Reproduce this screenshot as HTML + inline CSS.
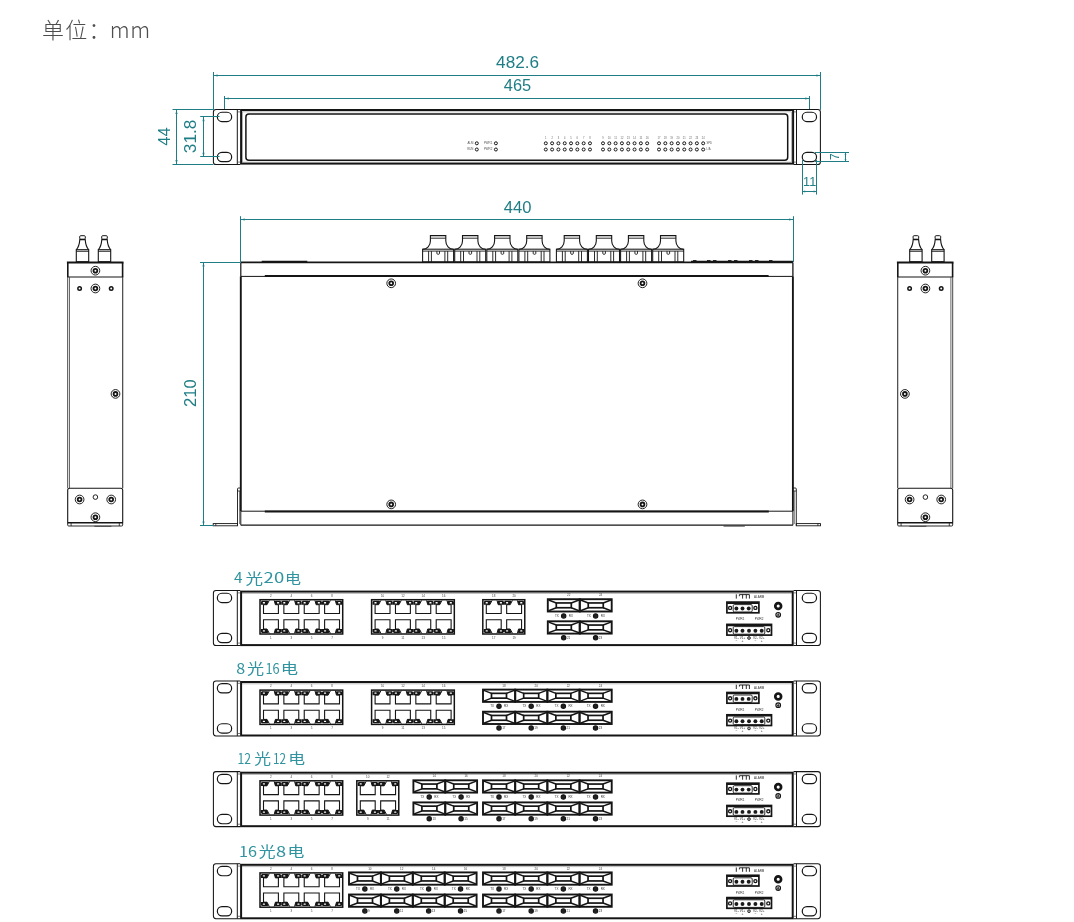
<!DOCTYPE html>
<html lang="zh-CN">
<head>
<meta charset="utf-8">
<title>尺寸图</title>
<style>
html,body{margin:0;padding:0;background:#fff;}
body{width:1074px;height:922px;overflow:hidden;font-family:"Liberation Sans","Noto Sans CJK SC",sans-serif;}
svg{display:block;will-change:transform;}
svg line, svg path, svg rect, svg circle{shape-rendering:geometricPrecision;}
</style>
</head>
<body>
<svg width="1074" height="922" viewBox="0 0 1074 922">
<rect x="0" y="0" width="1074" height="922" fill="#ffffff" stroke="none"/>
<text y="38.0" font-size="22" fill="#4d4d4d" font-weight="300" font-family='"Noto Sans CJK SC", "Liberation Sans", sans-serif'><tspan x="42" letter-spacing="1.3">单位：</tspan><tspan x="109.8" letter-spacing="0.6">mm</tspan></text>
<path d="M240.2 109.50 H216 Q213.4 109.50 213.4 112.10 V161.90 Q213.4 164.50 216 164.50 H240.2" fill="none" stroke="#151515" stroke-width="1.05" />
<line x1="237.30" y1="109.50" x2="237.30" y2="164.50" stroke="#151515" stroke-width="1.0" />
<line x1="237.30" y1="111.90" x2="240.20" y2="111.90" stroke="#444" stroke-width="0.7" />
<line x1="237.30" y1="162.10" x2="240.20" y2="162.10" stroke="#444" stroke-width="0.7" />
<path d="M793.6 109.50 H817.8 Q820.4 109.50 820.4 112.10 V161.90 Q820.4 164.50 817.8 164.50 H793.6" fill="none" stroke="#151515" stroke-width="1.05" />
<line x1="796.50" y1="109.50" x2="796.50" y2="164.50" stroke="#151515" stroke-width="1.0" />
<line x1="793.60" y1="111.90" x2="796.50" y2="111.90" stroke="#444" stroke-width="0.7" />
<line x1="793.60" y1="162.10" x2="796.50" y2="162.10" stroke="#444" stroke-width="0.7" />
<rect x="217.35" y="112.25" width="14.30" height="9.30" rx="4.65" fill="none" stroke="#151515" stroke-width="1.2"/>
<rect x="217.35" y="152.35" width="14.30" height="9.30" rx="4.65" fill="none" stroke="#151515" stroke-width="1.2"/>
<rect x="802.25" y="112.25" width="14.30" height="9.30" rx="4.65" fill="none" stroke="#151515" stroke-width="1.2"/>
<rect x="802.25" y="152.35" width="14.30" height="9.30" rx="4.65" fill="none" stroke="#151515" stroke-width="1.2"/>
<rect x="241.10" y="110.00" width="552.00" height="53.60" rx="0" fill="none" stroke="#151515" stroke-width="2.0"/>
<rect x="242.70" y="111.90" width="548.80" height="50.20" rx="0" fill="none" stroke="#777" stroke-width="0.5"/>
<rect x="245.90" y="114.10" width="541.80" height="46.20" rx="3" fill="none" stroke="#151515" stroke-width="1.5"/>
<circle cx="476.80" cy="143.30" r="1.5" fill="none" stroke="#151515" stroke-width="1.0"/>
<circle cx="476.80" cy="149.50" r="1.5" fill="none" stroke="#151515" stroke-width="1.0"/>
<circle cx="495.90" cy="143.30" r="1.5" fill="none" stroke="#151515" stroke-width="1.0"/>
<circle cx="495.90" cy="149.50" r="1.5" fill="none" stroke="#151515" stroke-width="1.0"/>
<text x="473.40" y="144.20" font-size="2.9" fill="#555" text-anchor="end" font-family='"Liberation Sans", sans-serif' >ALM</text>
<text x="473.40" y="150.40" font-size="2.9" fill="#555" text-anchor="end" font-family='"Liberation Sans", sans-serif' >RUN</text>
<text x="492.30" y="144.20" font-size="2.9" fill="#555" text-anchor="end" font-family='"Liberation Sans", sans-serif' >PWR1</text>
<text x="492.30" y="150.40" font-size="2.9" fill="#555" text-anchor="end" font-family='"Liberation Sans", sans-serif' >PWR2</text>
<circle cx="545.80" cy="143.30" r="1.5" fill="none" stroke="#151515" stroke-width="1.0"/>
<circle cx="545.80" cy="149.50" r="1.5" fill="none" stroke="#151515" stroke-width="1.0"/>
<text x="545.80" y="139.00" font-size="2.6" fill="#666" text-anchor="middle" font-family='"Liberation Sans", sans-serif' >1</text>
<circle cx="552.11" cy="143.30" r="1.5" fill="none" stroke="#151515" stroke-width="1.0"/>
<circle cx="552.11" cy="149.50" r="1.5" fill="none" stroke="#151515" stroke-width="1.0"/>
<text x="552.11" y="139.00" font-size="2.6" fill="#666" text-anchor="middle" font-family='"Liberation Sans", sans-serif' >2</text>
<circle cx="558.42" cy="143.30" r="1.5" fill="none" stroke="#151515" stroke-width="1.0"/>
<circle cx="558.42" cy="149.50" r="1.5" fill="none" stroke="#151515" stroke-width="1.0"/>
<text x="558.42" y="139.00" font-size="2.6" fill="#666" text-anchor="middle" font-family='"Liberation Sans", sans-serif' >3</text>
<circle cx="564.73" cy="143.30" r="1.5" fill="none" stroke="#151515" stroke-width="1.0"/>
<circle cx="564.73" cy="149.50" r="1.5" fill="none" stroke="#151515" stroke-width="1.0"/>
<text x="564.73" y="139.00" font-size="2.6" fill="#666" text-anchor="middle" font-family='"Liberation Sans", sans-serif' >4</text>
<circle cx="571.04" cy="143.30" r="1.5" fill="none" stroke="#151515" stroke-width="1.0"/>
<circle cx="571.04" cy="149.50" r="1.5" fill="none" stroke="#151515" stroke-width="1.0"/>
<text x="571.04" y="139.00" font-size="2.6" fill="#666" text-anchor="middle" font-family='"Liberation Sans", sans-serif' >5</text>
<circle cx="577.35" cy="143.30" r="1.5" fill="none" stroke="#151515" stroke-width="1.0"/>
<circle cx="577.35" cy="149.50" r="1.5" fill="none" stroke="#151515" stroke-width="1.0"/>
<text x="577.35" y="139.00" font-size="2.6" fill="#666" text-anchor="middle" font-family='"Liberation Sans", sans-serif' >6</text>
<circle cx="583.66" cy="143.30" r="1.5" fill="none" stroke="#151515" stroke-width="1.0"/>
<circle cx="583.66" cy="149.50" r="1.5" fill="none" stroke="#151515" stroke-width="1.0"/>
<text x="583.66" y="139.00" font-size="2.6" fill="#666" text-anchor="middle" font-family='"Liberation Sans", sans-serif' >7</text>
<circle cx="589.97" cy="143.30" r="1.5" fill="none" stroke="#151515" stroke-width="1.0"/>
<circle cx="589.97" cy="149.50" r="1.5" fill="none" stroke="#151515" stroke-width="1.0"/>
<text x="589.97" y="139.00" font-size="2.6" fill="#666" text-anchor="middle" font-family='"Liberation Sans", sans-serif' >8</text>
<circle cx="603.00" cy="143.30" r="1.5" fill="none" stroke="#151515" stroke-width="1.0"/>
<circle cx="603.00" cy="149.50" r="1.5" fill="none" stroke="#151515" stroke-width="1.0"/>
<text x="603.00" y="139.00" font-size="2.6" fill="#666" text-anchor="middle" font-family='"Liberation Sans", sans-serif' >9</text>
<circle cx="609.31" cy="143.30" r="1.5" fill="none" stroke="#151515" stroke-width="1.0"/>
<circle cx="609.31" cy="149.50" r="1.5" fill="none" stroke="#151515" stroke-width="1.0"/>
<text x="609.31" y="139.00" font-size="2.6" fill="#666" text-anchor="middle" font-family='"Liberation Sans", sans-serif' >10</text>
<circle cx="615.62" cy="143.30" r="1.5" fill="none" stroke="#151515" stroke-width="1.0"/>
<circle cx="615.62" cy="149.50" r="1.5" fill="none" stroke="#151515" stroke-width="1.0"/>
<text x="615.62" y="139.00" font-size="2.6" fill="#666" text-anchor="middle" font-family='"Liberation Sans", sans-serif' >11</text>
<circle cx="621.93" cy="143.30" r="1.5" fill="none" stroke="#151515" stroke-width="1.0"/>
<circle cx="621.93" cy="149.50" r="1.5" fill="none" stroke="#151515" stroke-width="1.0"/>
<text x="621.93" y="139.00" font-size="2.6" fill="#666" text-anchor="middle" font-family='"Liberation Sans", sans-serif' >12</text>
<circle cx="628.24" cy="143.30" r="1.5" fill="none" stroke="#151515" stroke-width="1.0"/>
<circle cx="628.24" cy="149.50" r="1.5" fill="none" stroke="#151515" stroke-width="1.0"/>
<text x="628.24" y="139.00" font-size="2.6" fill="#666" text-anchor="middle" font-family='"Liberation Sans", sans-serif' >13</text>
<circle cx="634.55" cy="143.30" r="1.5" fill="none" stroke="#151515" stroke-width="1.0"/>
<circle cx="634.55" cy="149.50" r="1.5" fill="none" stroke="#151515" stroke-width="1.0"/>
<text x="634.55" y="139.00" font-size="2.6" fill="#666" text-anchor="middle" font-family='"Liberation Sans", sans-serif' >14</text>
<circle cx="640.86" cy="143.30" r="1.5" fill="none" stroke="#151515" stroke-width="1.0"/>
<circle cx="640.86" cy="149.50" r="1.5" fill="none" stroke="#151515" stroke-width="1.0"/>
<text x="640.86" y="139.00" font-size="2.6" fill="#666" text-anchor="middle" font-family='"Liberation Sans", sans-serif' >15</text>
<circle cx="647.17" cy="143.30" r="1.5" fill="none" stroke="#151515" stroke-width="1.0"/>
<circle cx="647.17" cy="149.50" r="1.5" fill="none" stroke="#151515" stroke-width="1.0"/>
<text x="647.17" y="139.00" font-size="2.6" fill="#666" text-anchor="middle" font-family='"Liberation Sans", sans-serif' >16</text>
<circle cx="659.00" cy="143.30" r="1.5" fill="none" stroke="#151515" stroke-width="1.0"/>
<circle cx="659.00" cy="149.50" r="1.5" fill="none" stroke="#151515" stroke-width="1.0"/>
<text x="659.00" y="139.00" font-size="2.6" fill="#666" text-anchor="middle" font-family='"Liberation Sans", sans-serif' >17</text>
<circle cx="665.31" cy="143.30" r="1.5" fill="none" stroke="#151515" stroke-width="1.0"/>
<circle cx="665.31" cy="149.50" r="1.5" fill="none" stroke="#151515" stroke-width="1.0"/>
<text x="665.31" y="139.00" font-size="2.6" fill="#666" text-anchor="middle" font-family='"Liberation Sans", sans-serif' >18</text>
<circle cx="671.62" cy="143.30" r="1.5" fill="none" stroke="#151515" stroke-width="1.0"/>
<circle cx="671.62" cy="149.50" r="1.5" fill="none" stroke="#151515" stroke-width="1.0"/>
<text x="671.62" y="139.00" font-size="2.6" fill="#666" text-anchor="middle" font-family='"Liberation Sans", sans-serif' >19</text>
<circle cx="677.93" cy="143.30" r="1.5" fill="none" stroke="#151515" stroke-width="1.0"/>
<circle cx="677.93" cy="149.50" r="1.5" fill="none" stroke="#151515" stroke-width="1.0"/>
<text x="677.93" y="139.00" font-size="2.6" fill="#666" text-anchor="middle" font-family='"Liberation Sans", sans-serif' >20</text>
<circle cx="684.24" cy="143.30" r="1.5" fill="none" stroke="#151515" stroke-width="1.0"/>
<circle cx="684.24" cy="149.50" r="1.5" fill="none" stroke="#151515" stroke-width="1.0"/>
<text x="684.24" y="139.00" font-size="2.6" fill="#666" text-anchor="middle" font-family='"Liberation Sans", sans-serif' >21</text>
<circle cx="690.55" cy="143.30" r="1.5" fill="none" stroke="#151515" stroke-width="1.0"/>
<circle cx="690.55" cy="149.50" r="1.5" fill="none" stroke="#151515" stroke-width="1.0"/>
<text x="690.55" y="139.00" font-size="2.6" fill="#666" text-anchor="middle" font-family='"Liberation Sans", sans-serif' >22</text>
<circle cx="696.86" cy="143.30" r="1.5" fill="none" stroke="#151515" stroke-width="1.0"/>
<circle cx="696.86" cy="149.50" r="1.5" fill="none" stroke="#151515" stroke-width="1.0"/>
<text x="696.86" y="139.00" font-size="2.6" fill="#666" text-anchor="middle" font-family='"Liberation Sans", sans-serif' >23</text>
<circle cx="703.17" cy="143.30" r="1.5" fill="none" stroke="#151515" stroke-width="1.0"/>
<circle cx="703.17" cy="149.50" r="1.5" fill="none" stroke="#151515" stroke-width="1.0"/>
<text x="703.17" y="139.00" font-size="2.6" fill="#666" text-anchor="middle" font-family='"Liberation Sans", sans-serif' >24</text>
<text x="706.50" y="144.20" font-size="2.7" fill="#555" text-anchor="start" font-family='"Liberation Sans", sans-serif' >SPD</text>
<text x="706.50" y="150.40" font-size="2.7" fill="#555" text-anchor="start" font-family='"Liberation Sans", sans-serif' >L/A</text>
<line x1="213.50" y1="72.00" x2="213.50" y2="109.90" stroke="#1f7d86" stroke-width="1" />
<line x1="820.50" y1="72.00" x2="820.50" y2="109.90" stroke="#1f7d86" stroke-width="1" />
<line x1="213.40" y1="75.50" x2="820.50" y2="75.50" stroke="#1f7d86" stroke-width="1" />
<polygon points="213.40,75.50 217.60,74.45 217.60,76.55" fill="#1f7d86"/>
<polygon points="820.50,75.50 816.30,74.45 816.30,76.55" fill="#1f7d86"/>
<line x1="224.50" y1="96.00" x2="224.50" y2="109.00" stroke="#1f7d86" stroke-width="1" />
<line x1="809.50" y1="96.00" x2="809.50" y2="109.00" stroke="#1f7d86" stroke-width="1" />
<line x1="224.60" y1="98.50" x2="809.40" y2="98.50" stroke="#1f7d86" stroke-width="1" />
<polygon points="224.60,98.50 228.80,97.45 228.80,99.55" fill="#1f7d86"/>
<polygon points="809.40,98.50 805.20,97.45 805.20,99.55" fill="#1f7d86"/>
<text x="496.11" y="67.50" font-size="15.6" fill="#1f7d86" font-family='"Liberation Sans", sans-serif' font-weight="400" textLength="42.97" lengthAdjust="spacingAndGlyphs">482.6</text>
<text x="503.82" y="91.20" font-size="15.6" fill="#1f7d86" font-family='"Liberation Sans", sans-serif' font-weight="400" textLength="27.36" lengthAdjust="spacingAndGlyphs">465</text>
<line x1="172.50" y1="109.50" x2="213.40" y2="109.50" stroke="#1f7d86" stroke-width="1" />
<line x1="172.50" y1="164.50" x2="213.40" y2="164.50" stroke="#1f7d86" stroke-width="1" />
<line x1="176.50" y1="109.90" x2="176.50" y2="164.30" stroke="#1f7d86" stroke-width="1" />
<polygon points="176.50,109.90 175.45,114.10 177.55,114.10" fill="#1f7d86"/>
<polygon points="176.50,164.30 175.45,160.10 177.55,160.10" fill="#1f7d86"/>
<text transform="translate(169.65 145.68) rotate(-90)" x="0" y="0" font-size="16.9" fill="#1f7d86" font-family='"Liberation Sans", sans-serif' font-weight="400" textLength="18.26" lengthAdjust="spacingAndGlyphs">44</text>
<line x1="200.20" y1="116.50" x2="219.50" y2="116.50" stroke="#1f7d86" stroke-width="1" />
<line x1="200.20" y1="156.50" x2="219.50" y2="156.50" stroke="#1f7d86" stroke-width="1" />
<line x1="203.50" y1="117.00" x2="203.50" y2="157.00" stroke="#1f7d86" stroke-width="1" />
<polygon points="203.50,117.00 202.45,121.20 204.55,121.20" fill="#1f7d86"/>
<polygon points="203.50,157.00 202.45,152.80 204.55,152.80" fill="#1f7d86"/>
<text transform="translate(196.05 153.24) rotate(-90)" x="0" y="0" font-size="16.6" fill="#1f7d86" font-family='"Liberation Sans", sans-serif' font-weight="400" textLength="33.70" lengthAdjust="spacingAndGlyphs">31.8</text>
<line x1="815.00" y1="152.50" x2="849.00" y2="152.50" stroke="#1f7d86" stroke-width="1" />
<line x1="815.00" y1="161.50" x2="849.00" y2="161.50" stroke="#1f7d86" stroke-width="1" />
<line x1="845.50" y1="152.40" x2="845.50" y2="161.50" stroke="#1f7d86" stroke-width="1" />
<polygon points="845.50,152.40 844.60,155.00 846.40,155.00" fill="#1f7d86"/>
<polygon points="845.50,161.50 844.60,158.90 846.40,158.90" fill="#1f7d86"/>
<text transform="translate(839.45 160.04) rotate(-90)" x="0" y="0" font-size="13.3" fill="#1f7d86" font-family='"Liberation Sans", sans-serif' font-weight="400" textLength="6.53" lengthAdjust="spacingAndGlyphs">7</text>
<line x1="802.50" y1="159.90" x2="802.50" y2="194.60" stroke="#1f7d86" stroke-width="1" />
<line x1="816.50" y1="159.90" x2="816.50" y2="194.60" stroke="#1f7d86" stroke-width="1" />
<line x1="802.40" y1="191.50" x2="816.40" y2="191.50" stroke="#1f7d86" stroke-width="1" />
<polygon points="802.40,191.50 805.20,190.60 805.20,192.40" fill="#1f7d86"/>
<polygon points="816.40,191.50 813.60,190.60 813.60,192.40" fill="#1f7d86"/>
<text x="803.03" y="185.55" font-size="12.4" fill="#1f7d86" font-family='"Liberation Sans", sans-serif' font-weight="400" textLength="13.23" lengthAdjust="spacingAndGlyphs">11</text>
<rect x="422.60" y="249.20" width="31.00" height="12.70" rx="0" fill="none" stroke="#151515" stroke-width="1.05"/>
<line x1="422.60" y1="251.10" x2="453.60" y2="251.10" stroke="#151515" stroke-width="0.9" />
<line x1="428.60" y1="251.10" x2="428.60" y2="261.90" stroke="#151515" stroke-width="0.9" />
<line x1="431.40" y1="251.10" x2="431.40" y2="261.90" stroke="#151515" stroke-width="0.9" />
<line x1="444.90" y1="251.10" x2="444.90" y2="261.90" stroke="#151515" stroke-width="0.9" />
<line x1="447.70" y1="251.10" x2="447.70" y2="261.90" stroke="#151515" stroke-width="0.9" />
<path d="M436.90 251.1 V253.4 Q436.90 254.3 438.20 254.3 Q439.50 254.3 439.50 253.4 V251.1" fill="none" stroke="#151515" stroke-width="0.9" />
<path d="M422.80 249.2 A7.6 8.2 0 0 0 430.40 241.0 V235.6 H445.80 V241.0 A7.6 8.2 0 0 0 453.40 249.2" fill="none" stroke="#151515" stroke-width="1.1" />
<line x1="430.40" y1="238.20" x2="445.80" y2="238.20" stroke="#151515" stroke-width="0.9" />
<rect x="454.70" y="249.20" width="31.00" height="12.70" rx="0" fill="none" stroke="#151515" stroke-width="1.05"/>
<line x1="454.70" y1="251.10" x2="485.70" y2="251.10" stroke="#151515" stroke-width="0.9" />
<line x1="460.70" y1="251.10" x2="460.70" y2="261.90" stroke="#151515" stroke-width="0.9" />
<line x1="463.50" y1="251.10" x2="463.50" y2="261.90" stroke="#151515" stroke-width="0.9" />
<line x1="477.00" y1="251.10" x2="477.00" y2="261.90" stroke="#151515" stroke-width="0.9" />
<line x1="479.80" y1="251.10" x2="479.80" y2="261.90" stroke="#151515" stroke-width="0.9" />
<path d="M469.00 251.1 V253.4 Q469.00 254.3 470.30 254.3 Q471.60 254.3 471.60 253.4 V251.1" fill="none" stroke="#151515" stroke-width="0.9" />
<path d="M454.90 249.2 A7.6 8.2 0 0 0 462.50 241.0 V235.6 H477.90 V241.0 A7.6 8.2 0 0 0 485.50 249.2" fill="none" stroke="#151515" stroke-width="1.1" />
<line x1="462.50" y1="238.20" x2="477.90" y2="238.20" stroke="#151515" stroke-width="0.9" />
<rect x="486.80" y="249.20" width="31.00" height="12.70" rx="0" fill="none" stroke="#151515" stroke-width="1.05"/>
<line x1="486.80" y1="251.10" x2="517.80" y2="251.10" stroke="#151515" stroke-width="0.9" />
<line x1="492.80" y1="251.10" x2="492.80" y2="261.90" stroke="#151515" stroke-width="0.9" />
<line x1="495.60" y1="251.10" x2="495.60" y2="261.90" stroke="#151515" stroke-width="0.9" />
<line x1="509.10" y1="251.10" x2="509.10" y2="261.90" stroke="#151515" stroke-width="0.9" />
<line x1="511.90" y1="251.10" x2="511.90" y2="261.90" stroke="#151515" stroke-width="0.9" />
<path d="M501.10 251.1 V253.4 Q501.10 254.3 502.40 254.3 Q503.70 254.3 503.70 253.4 V251.1" fill="none" stroke="#151515" stroke-width="0.9" />
<path d="M487.00 249.2 A7.6 8.2 0 0 0 494.60 241.0 V235.6 H510.00 V241.0 A7.6 8.2 0 0 0 517.60 249.2" fill="none" stroke="#151515" stroke-width="1.1" />
<line x1="494.60" y1="238.20" x2="510.00" y2="238.20" stroke="#151515" stroke-width="0.9" />
<rect x="518.90" y="249.20" width="31.00" height="12.70" rx="0" fill="none" stroke="#151515" stroke-width="1.05"/>
<line x1="518.90" y1="251.10" x2="549.90" y2="251.10" stroke="#151515" stroke-width="0.9" />
<line x1="524.90" y1="251.10" x2="524.90" y2="261.90" stroke="#151515" stroke-width="0.9" />
<line x1="527.70" y1="251.10" x2="527.70" y2="261.90" stroke="#151515" stroke-width="0.9" />
<line x1="541.20" y1="251.10" x2="541.20" y2="261.90" stroke="#151515" stroke-width="0.9" />
<line x1="544.00" y1="251.10" x2="544.00" y2="261.90" stroke="#151515" stroke-width="0.9" />
<path d="M533.20 251.1 V253.4 Q533.20 254.3 534.50 254.3 Q535.80 254.3 535.80 253.4 V251.1" fill="none" stroke="#151515" stroke-width="0.9" />
<path d="M519.10 249.2 A7.6 8.2 0 0 0 526.70 241.0 V235.6 H542.10 V241.0 A7.6 8.2 0 0 0 549.70 249.2" fill="none" stroke="#151515" stroke-width="1.1" />
<line x1="526.70" y1="238.20" x2="542.10" y2="238.20" stroke="#151515" stroke-width="0.9" />
<rect x="556.40" y="249.20" width="31.00" height="12.70" rx="0" fill="none" stroke="#151515" stroke-width="1.05"/>
<line x1="556.40" y1="251.10" x2="587.40" y2="251.10" stroke="#151515" stroke-width="0.9" />
<line x1="562.40" y1="251.10" x2="562.40" y2="261.90" stroke="#151515" stroke-width="0.9" />
<line x1="565.20" y1="251.10" x2="565.20" y2="261.90" stroke="#151515" stroke-width="0.9" />
<line x1="578.70" y1="251.10" x2="578.70" y2="261.90" stroke="#151515" stroke-width="0.9" />
<line x1="581.50" y1="251.10" x2="581.50" y2="261.90" stroke="#151515" stroke-width="0.9" />
<path d="M570.70 251.1 V253.4 Q570.70 254.3 572.00 254.3 Q573.30 254.3 573.30 253.4 V251.1" fill="none" stroke="#151515" stroke-width="0.9" />
<path d="M556.60 249.2 A7.6 8.2 0 0 0 564.20 241.0 V235.6 H579.60 V241.0 A7.6 8.2 0 0 0 587.20 249.2" fill="none" stroke="#151515" stroke-width="1.1" />
<line x1="564.20" y1="238.20" x2="579.60" y2="238.20" stroke="#151515" stroke-width="0.9" />
<rect x="588.50" y="249.20" width="31.00" height="12.70" rx="0" fill="none" stroke="#151515" stroke-width="1.05"/>
<line x1="588.50" y1="251.10" x2="619.50" y2="251.10" stroke="#151515" stroke-width="0.9" />
<line x1="594.50" y1="251.10" x2="594.50" y2="261.90" stroke="#151515" stroke-width="0.9" />
<line x1="597.30" y1="251.10" x2="597.30" y2="261.90" stroke="#151515" stroke-width="0.9" />
<line x1="610.80" y1="251.10" x2="610.80" y2="261.90" stroke="#151515" stroke-width="0.9" />
<line x1="613.60" y1="251.10" x2="613.60" y2="261.90" stroke="#151515" stroke-width="0.9" />
<path d="M602.80 251.1 V253.4 Q602.80 254.3 604.10 254.3 Q605.40 254.3 605.40 253.4 V251.1" fill="none" stroke="#151515" stroke-width="0.9" />
<path d="M588.70 249.2 A7.6 8.2 0 0 0 596.30 241.0 V235.6 H611.70 V241.0 A7.6 8.2 0 0 0 619.30 249.2" fill="none" stroke="#151515" stroke-width="1.1" />
<line x1="596.30" y1="238.20" x2="611.70" y2="238.20" stroke="#151515" stroke-width="0.9" />
<rect x="620.60" y="249.20" width="31.00" height="12.70" rx="0" fill="none" stroke="#151515" stroke-width="1.05"/>
<line x1="620.60" y1="251.10" x2="651.60" y2="251.10" stroke="#151515" stroke-width="0.9" />
<line x1="626.60" y1="251.10" x2="626.60" y2="261.90" stroke="#151515" stroke-width="0.9" />
<line x1="629.40" y1="251.10" x2="629.40" y2="261.90" stroke="#151515" stroke-width="0.9" />
<line x1="642.90" y1="251.10" x2="642.90" y2="261.90" stroke="#151515" stroke-width="0.9" />
<line x1="645.70" y1="251.10" x2="645.70" y2="261.90" stroke="#151515" stroke-width="0.9" />
<path d="M634.90 251.1 V253.4 Q634.90 254.3 636.20 254.3 Q637.50 254.3 637.50 253.4 V251.1" fill="none" stroke="#151515" stroke-width="0.9" />
<path d="M620.80 249.2 A7.6 8.2 0 0 0 628.40 241.0 V235.6 H643.80 V241.0 A7.6 8.2 0 0 0 651.40 249.2" fill="none" stroke="#151515" stroke-width="1.1" />
<line x1="628.40" y1="238.20" x2="643.80" y2="238.20" stroke="#151515" stroke-width="0.9" />
<rect x="652.70" y="249.20" width="31.00" height="12.70" rx="0" fill="none" stroke="#151515" stroke-width="1.05"/>
<line x1="652.70" y1="251.10" x2="683.70" y2="251.10" stroke="#151515" stroke-width="0.9" />
<line x1="658.70" y1="251.10" x2="658.70" y2="261.90" stroke="#151515" stroke-width="0.9" />
<line x1="661.50" y1="251.10" x2="661.50" y2="261.90" stroke="#151515" stroke-width="0.9" />
<line x1="675.00" y1="251.10" x2="675.00" y2="261.90" stroke="#151515" stroke-width="0.9" />
<line x1="677.80" y1="251.10" x2="677.80" y2="261.90" stroke="#151515" stroke-width="0.9" />
<path d="M667.00 251.1 V253.4 Q667.00 254.3 668.30 254.3 Q669.60 254.3 669.60 253.4 V251.1" fill="none" stroke="#151515" stroke-width="0.9" />
<path d="M652.90 249.2 A7.6 8.2 0 0 0 660.50 241.0 V235.6 H675.90 V241.0 A7.6 8.2 0 0 0 683.50 249.2" fill="none" stroke="#151515" stroke-width="1.1" />
<line x1="660.50" y1="238.20" x2="675.90" y2="238.20" stroke="#151515" stroke-width="0.9" />
<line x1="240.80" y1="262.40" x2="792.90" y2="262.40" stroke="#151515" stroke-width="1.8" />
<line x1="261.70" y1="261.60" x2="307.30" y2="261.60" stroke="#151515" stroke-width="1.6" />
<path d="M691 261.8 H792.9" fill="none" stroke="#151515" stroke-width="2.0" />
<line x1="693.00" y1="260.60" x2="696.50" y2="260.60" stroke="#151515" stroke-width="1.0" />
<line x1="707.00" y1="260.60" x2="710.50" y2="260.60" stroke="#151515" stroke-width="1.0" />
<line x1="713.00" y1="260.60" x2="716.50" y2="260.60" stroke="#151515" stroke-width="1.0" />
<line x1="728.00" y1="260.60" x2="731.50" y2="260.60" stroke="#151515" stroke-width="1.0" />
<line x1="734.00" y1="260.60" x2="737.50" y2="260.60" stroke="#151515" stroke-width="1.0" />
<line x1="749.00" y1="260.60" x2="752.50" y2="260.60" stroke="#151515" stroke-width="1.0" />
<line x1="755.00" y1="260.60" x2="758.50" y2="260.60" stroke="#151515" stroke-width="1.0" />
<line x1="769.00" y1="260.60" x2="772.50" y2="260.60" stroke="#151515" stroke-width="1.0" />
<line x1="240.80" y1="276.40" x2="792.90" y2="276.40" stroke="#151515" stroke-width="1.0" />
<line x1="264.80" y1="276.10" x2="768.60" y2="276.10" stroke="#151515" stroke-width="2.0" />
<line x1="240.80" y1="262.40" x2="240.80" y2="276.40" stroke="#151515" stroke-width="1.2" />
<line x1="792.90" y1="262.40" x2="792.90" y2="276.40" stroke="#151515" stroke-width="1.3" />
<line x1="240.80" y1="276.40" x2="240.80" y2="511.20" stroke="#151515" stroke-width="1.9" />
<line x1="792.90" y1="276.40" x2="792.90" y2="511.20" stroke="#151515" stroke-width="1.9" />
<line x1="240.80" y1="511.20" x2="792.90" y2="511.20" stroke="#151515" stroke-width="1.0" />
<line x1="264.80" y1="511.60" x2="768.80" y2="511.60" stroke="#151515" stroke-width="2.0" />
<line x1="240.80" y1="511.20" x2="240.80" y2="525.20" stroke="#151515" stroke-width="1.0" />
<line x1="792.90" y1="511.20" x2="792.90" y2="525.20" stroke="#151515" stroke-width="1.0" />
<line x1="240.80" y1="525.20" x2="792.90" y2="525.20" stroke="#151515" stroke-width="1.3" />
<line x1="723.50" y1="525.90" x2="744.80" y2="525.90" stroke="#444" stroke-width="1.4" />
<path d="M237.5 525.6 V489 Q237.5 488 238.5 488 H240.8" fill="none" stroke="#151515" stroke-width="0.9" />
<line x1="237.50" y1="491.00" x2="240.80" y2="491.00" stroke="#151515" stroke-width="0.8" />
<line x1="239.60" y1="491.00" x2="239.60" y2="524.00" stroke="#444" stroke-width="0.7" />
<rect x="213.20" y="523.60" width="24.30" height="2.20" rx="0" fill="none" stroke="#151515" stroke-width="0.9"/>
<line x1="215.80" y1="523.60" x2="215.80" y2="525.80" stroke="#151515" stroke-width="0.8" />
<path d="M796.3 525.6 V489 Q796.3 488 795.3 488 H793" fill="none" stroke="#151515" stroke-width="0.9" />
<line x1="793.00" y1="491.00" x2="796.30" y2="491.00" stroke="#151515" stroke-width="0.8" />
<line x1="794.30" y1="491.00" x2="794.30" y2="524.00" stroke="#444" stroke-width="0.7" />
<rect x="796.30" y="523.60" width="24.20" height="2.20" rx="0" fill="none" stroke="#151515" stroke-width="0.9"/>
<line x1="817.90" y1="523.60" x2="817.90" y2="525.80" stroke="#151515" stroke-width="0.8" />
<circle cx="391.20" cy="283.30" r="4.35" fill="none" stroke="#151515" stroke-width="0.95"/>
<circle cx="391.20" cy="283.30" r="1.9" fill="none" stroke="#151515" stroke-width="1.8"/>
<circle cx="391.20" cy="504.40" r="4.35" fill="none" stroke="#151515" stroke-width="0.95"/>
<circle cx="391.20" cy="504.40" r="1.9" fill="none" stroke="#151515" stroke-width="1.8"/>
<circle cx="642.50" cy="283.30" r="4.35" fill="none" stroke="#151515" stroke-width="0.95"/>
<circle cx="642.50" cy="283.30" r="1.9" fill="none" stroke="#151515" stroke-width="1.8"/>
<circle cx="642.50" cy="504.40" r="4.35" fill="none" stroke="#151515" stroke-width="0.95"/>
<circle cx="642.50" cy="504.40" r="1.9" fill="none" stroke="#151515" stroke-width="1.8"/>
<line x1="240.50" y1="216.20" x2="240.50" y2="262.00" stroke="#1f7d86" stroke-width="1" />
<line x1="793.50" y1="216.20" x2="793.50" y2="262.00" stroke="#1f7d86" stroke-width="1" />
<line x1="240.60" y1="219.50" x2="793.20" y2="219.50" stroke="#1f7d86" stroke-width="1" />
<polygon points="240.60,219.50 244.80,218.45 244.80,220.55" fill="#1f7d86"/>
<polygon points="793.20,219.50 789.00,218.45 789.00,220.55" fill="#1f7d86"/>
<text x="503.82" y="212.50" font-size="15.6" fill="#1f7d86" font-family='"Liberation Sans", sans-serif' font-weight="400" textLength="27.67" lengthAdjust="spacingAndGlyphs">440</text>
<line x1="200.00" y1="262.50" x2="240.60" y2="262.50" stroke="#1f7d86" stroke-width="1" />
<line x1="200.00" y1="525.50" x2="214.00" y2="525.50" stroke="#1f7d86" stroke-width="1" />
<line x1="203.50" y1="262.20" x2="203.50" y2="525.80" stroke="#1f7d86" stroke-width="1" />
<polygon points="203.50,262.20 202.45,266.40 204.55,266.40" fill="#1f7d86"/>
<polygon points="203.50,525.80 202.45,521.60 204.55,521.60" fill="#1f7d86"/>
<text transform="translate(195.95 406.88) rotate(-90)" x="0" y="0" font-size="16.7" fill="#1f7d86" font-family='"Liberation Sans", sans-serif' font-weight="400" textLength="27.56" lengthAdjust="spacingAndGlyphs">210</text>
<rect x="76.30" y="249.70" width="12.40" height="12.00" rx="0" fill="none" stroke="#151515" stroke-width="1.1"/>
<line x1="76.30" y1="251.30" x2="88.70" y2="251.30" stroke="#151515" stroke-width="0.9" />
<path d="M76.30 249.7 Q79.30 246.5 79.80 239.6 H85.20 Q85.70 246.5 88.70 249.7" fill="none" stroke="#151515" stroke-width="1.1" />
<rect x="79.70" y="235.70" width="5.60" height="3.50" rx="1.0" fill="none" stroke="#151515" stroke-width="1.0"/>
<rect x="98.30" y="249.70" width="12.40" height="12.00" rx="0" fill="none" stroke="#151515" stroke-width="1.1"/>
<line x1="98.30" y1="251.30" x2="110.70" y2="251.30" stroke="#151515" stroke-width="0.9" />
<path d="M98.30 249.7 Q101.30 246.5 101.80 239.6 H107.20 Q107.70 246.5 110.70 249.7" fill="none" stroke="#151515" stroke-width="1.1" />
<rect x="101.70" y="235.70" width="5.60" height="3.50" rx="1.0" fill="none" stroke="#151515" stroke-width="1.0"/>
<line x1="66.90" y1="262.50" x2="123.50" y2="262.50" stroke="#151515" stroke-width="2.1" />
<line x1="67.80" y1="262.50" x2="67.80" y2="277.00" stroke="#151515" stroke-width="1.6" />
<line x1="122.60" y1="262.50" x2="122.60" y2="277.00" stroke="#151515" stroke-width="1.6" />
<line x1="67.20" y1="277.00" x2="123.20" y2="277.00" stroke="#151515" stroke-width="1.2" />
<line x1="67.70" y1="277.00" x2="67.70" y2="488.30" stroke="#333" stroke-width="0.9" />
<line x1="69.50" y1="277.00" x2="69.50" y2="488.30" stroke="#444" stroke-width="0.8" />
<line x1="122.70" y1="277.00" x2="122.70" y2="488.30" stroke="#333" stroke-width="1.1" />
<circle cx="95.40" cy="270.70" r="4.35" fill="none" stroke="#151515" stroke-width="0.95"/>
<circle cx="95.40" cy="270.70" r="1.9" fill="none" stroke="#151515" stroke-width="1.8"/>
<circle cx="95.40" cy="288.50" r="4.35" fill="none" stroke="#151515" stroke-width="0.95"/>
<circle cx="95.40" cy="288.50" r="1.9" fill="none" stroke="#151515" stroke-width="1.8"/>
<circle cx="79.60" cy="288.50" r="1.75" fill="none" stroke="#151515" stroke-width="1.5"/>
<circle cx="111.20" cy="288.50" r="1.75" fill="none" stroke="#151515" stroke-width="1.5"/>
<circle cx="115.50" cy="393.90" r="4.35" fill="none" stroke="#151515" stroke-width="0.95"/>
<circle cx="115.50" cy="393.90" r="1.9" fill="none" stroke="#151515" stroke-width="1.8"/>
<path d="M67.70 522.8 V490.3 Q67.70 488.3 69.70 488.3 H120.70 Q122.70 488.3 122.70 490.3 V522.8" fill="none" stroke="#151515" stroke-width="1.1" />
<line x1="67.40" y1="522.80" x2="123.00" y2="522.80" stroke="#151515" stroke-width="1.5" />
<path d="M67.70 522.8 V525 Q67.70 526 68.70 526 H121.70 Q122.70 526 122.70 525 V522.8" fill="none" stroke="#151515" stroke-width="0.9" />
<line x1="71.10" y1="522.80" x2="71.10" y2="526.00" stroke="#151515" stroke-width="0.8" />
<line x1="119.30" y1="522.80" x2="119.30" y2="526.00" stroke="#151515" stroke-width="0.8" />
<line x1="94.40" y1="526.30" x2="111.40" y2="526.30" stroke="#444" stroke-width="1.0" />
<circle cx="79.60" cy="499.50" r="4.35" fill="none" stroke="#151515" stroke-width="0.95"/>
<circle cx="79.60" cy="499.50" r="1.9" fill="none" stroke="#151515" stroke-width="1.8"/>
<circle cx="111.20" cy="499.50" r="4.35" fill="none" stroke="#151515" stroke-width="0.95"/>
<circle cx="111.20" cy="499.50" r="1.9" fill="none" stroke="#151515" stroke-width="1.8"/>
<circle cx="95.40" cy="517.20" r="4.35" fill="none" stroke="#151515" stroke-width="0.95"/>
<circle cx="95.40" cy="517.20" r="1.9" fill="none" stroke="#151515" stroke-width="1.8"/>
<circle cx="95.40" cy="497.10" r="2.3" fill="none" stroke="#222" stroke-width="1.0"/>
<rect x="931.70" y="249.70" width="12.40" height="12.00" rx="0" fill="none" stroke="#151515" stroke-width="1.1"/>
<line x1="931.70" y1="251.30" x2="944.10" y2="251.30" stroke="#151515" stroke-width="0.9" />
<path d="M931.70 249.7 Q934.70 246.5 935.20 239.6 H940.60 Q941.10 246.5 944.10 249.7" fill="none" stroke="#151515" stroke-width="1.1" />
<rect x="935.10" y="235.70" width="5.60" height="3.50" rx="1.0" fill="none" stroke="#151515" stroke-width="1.0"/>
<rect x="909.70" y="249.70" width="12.40" height="12.00" rx="0" fill="none" stroke="#151515" stroke-width="1.1"/>
<line x1="909.70" y1="251.30" x2="922.10" y2="251.30" stroke="#151515" stroke-width="0.9" />
<path d="M909.70 249.7 Q912.70 246.5 913.20 239.6 H918.60 Q919.10 246.5 922.10 249.7" fill="none" stroke="#151515" stroke-width="1.1" />
<rect x="913.10" y="235.70" width="5.60" height="3.50" rx="1.0" fill="none" stroke="#151515" stroke-width="1.0"/>
<line x1="896.90" y1="262.50" x2="953.50" y2="262.50" stroke="#151515" stroke-width="2.1" />
<line x1="897.80" y1="262.50" x2="897.80" y2="277.00" stroke="#151515" stroke-width="1.6" />
<line x1="952.60" y1="262.50" x2="952.60" y2="277.00" stroke="#151515" stroke-width="1.6" />
<line x1="897.20" y1="277.00" x2="953.20" y2="277.00" stroke="#151515" stroke-width="1.2" />
<line x1="952.70" y1="277.00" x2="952.70" y2="488.30" stroke="#333" stroke-width="0.9" />
<line x1="950.90" y1="277.00" x2="950.90" y2="488.30" stroke="#444" stroke-width="0.8" />
<line x1="897.70" y1="277.00" x2="897.70" y2="488.30" stroke="#333" stroke-width="1.1" />
<circle cx="925.40" cy="270.70" r="4.35" fill="none" stroke="#151515" stroke-width="0.95"/>
<circle cx="925.40" cy="270.70" r="1.9" fill="none" stroke="#151515" stroke-width="1.8"/>
<circle cx="925.40" cy="288.50" r="4.35" fill="none" stroke="#151515" stroke-width="0.95"/>
<circle cx="925.40" cy="288.50" r="1.9" fill="none" stroke="#151515" stroke-width="1.8"/>
<circle cx="909.60" cy="288.50" r="1.75" fill="none" stroke="#151515" stroke-width="1.5"/>
<circle cx="941.20" cy="288.50" r="1.75" fill="none" stroke="#151515" stroke-width="1.5"/>
<circle cx="904.90" cy="393.90" r="4.35" fill="none" stroke="#151515" stroke-width="0.95"/>
<circle cx="904.90" cy="393.90" r="1.9" fill="none" stroke="#151515" stroke-width="1.8"/>
<path d="M897.70 522.8 V490.3 Q897.70 488.3 899.70 488.3 H950.70 Q952.70 488.3 952.70 490.3 V522.8" fill="none" stroke="#151515" stroke-width="1.1" />
<line x1="897.40" y1="522.80" x2="953.00" y2="522.80" stroke="#151515" stroke-width="1.5" />
<path d="M897.70 522.8 V525 Q897.70 526 898.70 526 H951.70 Q952.70 526 952.70 525 V522.8" fill="none" stroke="#151515" stroke-width="0.9" />
<line x1="901.10" y1="522.80" x2="901.10" y2="526.00" stroke="#151515" stroke-width="0.8" />
<line x1="949.30" y1="522.80" x2="949.30" y2="526.00" stroke="#151515" stroke-width="0.8" />
<line x1="909.40" y1="526.30" x2="926.40" y2="526.30" stroke="#444" stroke-width="1.0" />
<circle cx="909.60" cy="499.50" r="4.35" fill="none" stroke="#151515" stroke-width="0.95"/>
<circle cx="909.60" cy="499.50" r="1.9" fill="none" stroke="#151515" stroke-width="1.8"/>
<circle cx="941.20" cy="499.50" r="4.35" fill="none" stroke="#151515" stroke-width="0.95"/>
<circle cx="941.20" cy="499.50" r="1.9" fill="none" stroke="#151515" stroke-width="1.8"/>
<circle cx="925.40" cy="517.20" r="4.35" fill="none" stroke="#151515" stroke-width="0.95"/>
<circle cx="925.40" cy="517.20" r="1.9" fill="none" stroke="#151515" stroke-width="1.8"/>
<circle cx="925.40" cy="497.10" r="2.3" fill="none" stroke="#222" stroke-width="1.0"/>
<path d="M240.2 590.50 H216 Q213.4 590.50 213.4 593.10 V642.90 Q213.4 645.50 216 645.50 H240.2" fill="none" stroke="#151515" stroke-width="1.05" />
<line x1="237.30" y1="590.50" x2="237.30" y2="645.50" stroke="#151515" stroke-width="1.0" />
<line x1="237.30" y1="592.90" x2="240.20" y2="592.90" stroke="#444" stroke-width="0.7" />
<line x1="237.30" y1="643.10" x2="240.20" y2="643.10" stroke="#444" stroke-width="0.7" />
<path d="M793.6 590.50 H817.8 Q820.4 590.50 820.4 593.10 V642.90 Q820.4 645.50 817.8 645.50 H793.6" fill="none" stroke="#151515" stroke-width="1.05" />
<line x1="796.50" y1="590.50" x2="796.50" y2="645.50" stroke="#151515" stroke-width="1.0" />
<line x1="793.60" y1="592.90" x2="796.50" y2="592.90" stroke="#444" stroke-width="0.7" />
<line x1="793.60" y1="643.10" x2="796.50" y2="643.10" stroke="#444" stroke-width="0.7" />
<rect x="217.35" y="593.25" width="14.30" height="9.30" rx="4.65" fill="none" stroke="#151515" stroke-width="1.2"/>
<rect x="217.35" y="633.35" width="14.30" height="9.30" rx="4.65" fill="none" stroke="#151515" stroke-width="1.2"/>
<rect x="802.25" y="593.25" width="14.30" height="9.30" rx="4.65" fill="none" stroke="#151515" stroke-width="1.2"/>
<rect x="802.25" y="633.35" width="14.30" height="9.30" rx="4.65" fill="none" stroke="#151515" stroke-width="1.2"/>
<rect x="241.10" y="591.60" width="551.60" height="53.50" rx="0" fill="none" stroke="#151515" stroke-width="2.0"/>
<line x1="242.00" y1="593.40" x2="791.80" y2="593.40" stroke="#777" stroke-width="0.5" />
<rect x="260.00" y="599.70" width="82.71" height="34.30" rx="0" fill="none" stroke="#151515" stroke-width="1.5"/>
<path d="M263.50 604.70 V613.50 H278.40 V604.70" fill="none" stroke="#151515" stroke-width="1.1" />
<path d="M263.50 604.70 H267.00 L269.30 600.40 M278.40 604.70 H275.40 L274.20 600.40" fill="none" stroke="#151515" stroke-width="1.0" />
<polygon points="260.90,601.70 262.10,600.80 267.40,600.80 268.50,601.30 267.00,604.80 260.90,604.80" fill="#151515"/>
<polygon points="274.50,601.30 275.50,600.80 280.00,600.80 281.20,601.70 281.20,604.80 275.40,604.80" fill="#151515"/>
<rect x="262.80" y="602.10" width="2.20" height="1.30" rx="0.5" fill="#fff" stroke="none" stroke-width="0"/>
<rect x="277.00" y="602.10" width="2.20" height="1.30" rx="0.5" fill="#fff" stroke="none" stroke-width="0"/>
<path d="M263.50 629.00 V619.80 H278.40 V629.00" fill="none" stroke="#151515" stroke-width="1.1" />
<path d="M263.50 629.00 H267.00 L269.30 633.30 M278.40 629.00 H275.40 L274.20 633.30" fill="none" stroke="#151515" stroke-width="1.0" />
<polygon points="260.90,632.00 262.10,632.90 267.40,632.90 268.50,632.40 267.00,628.90 260.90,628.90" fill="#151515"/>
<polygon points="274.50,632.40 275.50,632.90 280.00,632.90 281.20,632.00 281.20,628.90 275.40,628.90" fill="#151515"/>
<rect x="262.80" y="630.30" width="2.20" height="1.30" rx="0.5" fill="#fff" stroke="none" stroke-width="0"/>
<rect x="277.00" y="630.30" width="2.20" height="1.30" rx="0.5" fill="#fff" stroke="none" stroke-width="0"/>
<text x="270.95" y="596.90" font-size="3.0" fill="#444" text-anchor="middle" font-family='"Liberation Sans", sans-serif' >2</text>
<text x="270.95" y="638.90" font-size="3.0" fill="#444" text-anchor="middle" font-family='"Liberation Sans", sans-serif' >1</text>
<path d="M283.87 604.70 V613.50 H298.77 V604.70" fill="none" stroke="#151515" stroke-width="1.1" />
<path d="M283.87 604.70 H287.37 L289.67 600.40 M298.77 604.70 H295.77 L294.57 600.40" fill="none" stroke="#151515" stroke-width="1.0" />
<polygon points="281.27,601.70 282.47,600.80 287.77,600.80 288.87,601.30 287.37,604.80 281.27,604.80" fill="#151515"/>
<polygon points="294.87,601.30 295.87,600.80 300.37,600.80 301.57,601.70 301.57,604.80 295.77,604.80" fill="#151515"/>
<rect x="283.17" y="602.10" width="2.20" height="1.30" rx="0.5" fill="#fff" stroke="none" stroke-width="0"/>
<rect x="297.37" y="602.10" width="2.20" height="1.30" rx="0.5" fill="#fff" stroke="none" stroke-width="0"/>
<path d="M283.87 629.00 V619.80 H298.77 V629.00" fill="none" stroke="#151515" stroke-width="1.1" />
<path d="M283.87 629.00 H287.37 L289.67 633.30 M298.77 629.00 H295.77 L294.57 633.30" fill="none" stroke="#151515" stroke-width="1.0" />
<polygon points="281.27,632.00 282.47,632.90 287.77,632.90 288.87,632.40 287.37,628.90 281.27,628.90" fill="#151515"/>
<polygon points="294.87,632.40 295.87,632.90 300.37,632.90 301.57,632.00 301.57,628.90 295.77,628.90" fill="#151515"/>
<rect x="283.17" y="630.30" width="2.20" height="1.30" rx="0.5" fill="#fff" stroke="none" stroke-width="0"/>
<rect x="297.37" y="630.30" width="2.20" height="1.30" rx="0.5" fill="#fff" stroke="none" stroke-width="0"/>
<text x="291.32" y="596.90" font-size="3.0" fill="#444" text-anchor="middle" font-family='"Liberation Sans", sans-serif' >4</text>
<text x="291.32" y="638.90" font-size="3.0" fill="#444" text-anchor="middle" font-family='"Liberation Sans", sans-serif' >3</text>
<path d="M304.24 604.70 V613.50 H319.14 V604.70" fill="none" stroke="#151515" stroke-width="1.1" />
<path d="M304.24 604.70 H307.74 L310.04 600.40 M319.14 604.70 H316.14 L314.94 600.40" fill="none" stroke="#151515" stroke-width="1.0" />
<polygon points="301.64,601.70 302.84,600.80 308.14,600.80 309.24,601.30 307.74,604.80 301.64,604.80" fill="#151515"/>
<polygon points="315.24,601.30 316.24,600.80 320.74,600.80 321.94,601.70 321.94,604.80 316.14,604.80" fill="#151515"/>
<rect x="303.54" y="602.10" width="2.20" height="1.30" rx="0.5" fill="#fff" stroke="none" stroke-width="0"/>
<rect x="317.74" y="602.10" width="2.20" height="1.30" rx="0.5" fill="#fff" stroke="none" stroke-width="0"/>
<path d="M304.24 629.00 V619.80 H319.14 V629.00" fill="none" stroke="#151515" stroke-width="1.1" />
<path d="M304.24 629.00 H307.74 L310.04 633.30 M319.14 629.00 H316.14 L314.94 633.30" fill="none" stroke="#151515" stroke-width="1.0" />
<polygon points="301.64,632.00 302.84,632.90 308.14,632.90 309.24,632.40 307.74,628.90 301.64,628.90" fill="#151515"/>
<polygon points="315.24,632.40 316.24,632.90 320.74,632.90 321.94,632.00 321.94,628.90 316.14,628.90" fill="#151515"/>
<rect x="303.54" y="630.30" width="2.20" height="1.30" rx="0.5" fill="#fff" stroke="none" stroke-width="0"/>
<rect x="317.74" y="630.30" width="2.20" height="1.30" rx="0.5" fill="#fff" stroke="none" stroke-width="0"/>
<text x="311.69" y="596.90" font-size="3.0" fill="#444" text-anchor="middle" font-family='"Liberation Sans", sans-serif' >6</text>
<text x="311.69" y="638.90" font-size="3.0" fill="#444" text-anchor="middle" font-family='"Liberation Sans", sans-serif' >5</text>
<path d="M324.61 604.70 V613.50 H339.51 V604.70" fill="none" stroke="#151515" stroke-width="1.1" />
<path d="M324.61 604.70 H328.11 L330.41 600.40 M339.51 604.70 H336.51 L335.31 600.40" fill="none" stroke="#151515" stroke-width="1.0" />
<polygon points="322.01,601.70 323.21,600.80 328.51,600.80 329.61,601.30 328.11,604.80 322.01,604.80" fill="#151515"/>
<polygon points="335.61,601.30 336.61,600.80 341.11,600.80 342.31,601.70 342.31,604.80 336.51,604.80" fill="#151515"/>
<rect x="323.91" y="602.10" width="2.20" height="1.30" rx="0.5" fill="#fff" stroke="none" stroke-width="0"/>
<rect x="338.11" y="602.10" width="2.20" height="1.30" rx="0.5" fill="#fff" stroke="none" stroke-width="0"/>
<path d="M324.61 629.00 V619.80 H339.51 V629.00" fill="none" stroke="#151515" stroke-width="1.1" />
<path d="M324.61 629.00 H328.11 L330.41 633.30 M339.51 629.00 H336.51 L335.31 633.30" fill="none" stroke="#151515" stroke-width="1.0" />
<polygon points="322.01,632.00 323.21,632.90 328.51,632.90 329.61,632.40 328.11,628.90 322.01,628.90" fill="#151515"/>
<polygon points="335.61,632.40 336.61,632.90 341.11,632.90 342.31,632.00 342.31,628.90 336.51,628.90" fill="#151515"/>
<rect x="323.91" y="630.30" width="2.20" height="1.30" rx="0.5" fill="#fff" stroke="none" stroke-width="0"/>
<rect x="338.11" y="630.30" width="2.20" height="1.30" rx="0.5" fill="#fff" stroke="none" stroke-width="0"/>
<text x="332.06" y="596.90" font-size="3.0" fill="#444" text-anchor="middle" font-family='"Liberation Sans", sans-serif' >8</text>
<text x="332.06" y="638.90" font-size="3.0" fill="#444" text-anchor="middle" font-family='"Liberation Sans", sans-serif' >7</text>
<rect x="371.60" y="599.70" width="82.71" height="34.30" rx="0" fill="none" stroke="#151515" stroke-width="1.5"/>
<path d="M375.10 604.70 V613.50 H390.00 V604.70" fill="none" stroke="#151515" stroke-width="1.1" />
<path d="M375.10 604.70 H378.60 L380.90 600.40 M390.00 604.70 H387.00 L385.80 600.40" fill="none" stroke="#151515" stroke-width="1.0" />
<polygon points="372.50,601.70 373.70,600.80 379.00,600.80 380.10,601.30 378.60,604.80 372.50,604.80" fill="#151515"/>
<polygon points="386.10,601.30 387.10,600.80 391.60,600.80 392.80,601.70 392.80,604.80 387.00,604.80" fill="#151515"/>
<rect x="374.40" y="602.10" width="2.20" height="1.30" rx="0.5" fill="#fff" stroke="none" stroke-width="0"/>
<rect x="388.60" y="602.10" width="2.20" height="1.30" rx="0.5" fill="#fff" stroke="none" stroke-width="0"/>
<path d="M375.10 629.00 V619.80 H390.00 V629.00" fill="none" stroke="#151515" stroke-width="1.1" />
<path d="M375.10 629.00 H378.60 L380.90 633.30 M390.00 629.00 H387.00 L385.80 633.30" fill="none" stroke="#151515" stroke-width="1.0" />
<polygon points="372.50,632.00 373.70,632.90 379.00,632.90 380.10,632.40 378.60,628.90 372.50,628.90" fill="#151515"/>
<polygon points="386.10,632.40 387.10,632.90 391.60,632.90 392.80,632.00 392.80,628.90 387.00,628.90" fill="#151515"/>
<rect x="374.40" y="630.30" width="2.20" height="1.30" rx="0.5" fill="#fff" stroke="none" stroke-width="0"/>
<rect x="388.60" y="630.30" width="2.20" height="1.30" rx="0.5" fill="#fff" stroke="none" stroke-width="0"/>
<text x="382.55" y="596.90" font-size="3.0" fill="#444" text-anchor="middle" font-family='"Liberation Sans", sans-serif' >10</text>
<text x="382.55" y="638.90" font-size="3.0" fill="#444" text-anchor="middle" font-family='"Liberation Sans", sans-serif' >9</text>
<path d="M395.47 604.70 V613.50 H410.37 V604.70" fill="none" stroke="#151515" stroke-width="1.1" />
<path d="M395.47 604.70 H398.97 L401.27 600.40 M410.37 604.70 H407.37 L406.17 600.40" fill="none" stroke="#151515" stroke-width="1.0" />
<polygon points="392.87,601.70 394.07,600.80 399.37,600.80 400.47,601.30 398.97,604.80 392.87,604.80" fill="#151515"/>
<polygon points="406.47,601.30 407.47,600.80 411.97,600.80 413.17,601.70 413.17,604.80 407.37,604.80" fill="#151515"/>
<rect x="394.77" y="602.10" width="2.20" height="1.30" rx="0.5" fill="#fff" stroke="none" stroke-width="0"/>
<rect x="408.97" y="602.10" width="2.20" height="1.30" rx="0.5" fill="#fff" stroke="none" stroke-width="0"/>
<path d="M395.47 629.00 V619.80 H410.37 V629.00" fill="none" stroke="#151515" stroke-width="1.1" />
<path d="M395.47 629.00 H398.97 L401.27 633.30 M410.37 629.00 H407.37 L406.17 633.30" fill="none" stroke="#151515" stroke-width="1.0" />
<polygon points="392.87,632.00 394.07,632.90 399.37,632.90 400.47,632.40 398.97,628.90 392.87,628.90" fill="#151515"/>
<polygon points="406.47,632.40 407.47,632.90 411.97,632.90 413.17,632.00 413.17,628.90 407.37,628.90" fill="#151515"/>
<rect x="394.77" y="630.30" width="2.20" height="1.30" rx="0.5" fill="#fff" stroke="none" stroke-width="0"/>
<rect x="408.97" y="630.30" width="2.20" height="1.30" rx="0.5" fill="#fff" stroke="none" stroke-width="0"/>
<text x="402.92" y="596.90" font-size="3.0" fill="#444" text-anchor="middle" font-family='"Liberation Sans", sans-serif' >12</text>
<text x="402.92" y="638.90" font-size="3.0" fill="#444" text-anchor="middle" font-family='"Liberation Sans", sans-serif' >11</text>
<path d="M415.84 604.70 V613.50 H430.74 V604.70" fill="none" stroke="#151515" stroke-width="1.1" />
<path d="M415.84 604.70 H419.34 L421.64 600.40 M430.74 604.70 H427.74 L426.54 600.40" fill="none" stroke="#151515" stroke-width="1.0" />
<polygon points="413.24,601.70 414.44,600.80 419.74,600.80 420.84,601.30 419.34,604.80 413.24,604.80" fill="#151515"/>
<polygon points="426.84,601.30 427.84,600.80 432.34,600.80 433.54,601.70 433.54,604.80 427.74,604.80" fill="#151515"/>
<rect x="415.14" y="602.10" width="2.20" height="1.30" rx="0.5" fill="#fff" stroke="none" stroke-width="0"/>
<rect x="429.34" y="602.10" width="2.20" height="1.30" rx="0.5" fill="#fff" stroke="none" stroke-width="0"/>
<path d="M415.84 629.00 V619.80 H430.74 V629.00" fill="none" stroke="#151515" stroke-width="1.1" />
<path d="M415.84 629.00 H419.34 L421.64 633.30 M430.74 629.00 H427.74 L426.54 633.30" fill="none" stroke="#151515" stroke-width="1.0" />
<polygon points="413.24,632.00 414.44,632.90 419.74,632.90 420.84,632.40 419.34,628.90 413.24,628.90" fill="#151515"/>
<polygon points="426.84,632.40 427.84,632.90 432.34,632.90 433.54,632.00 433.54,628.90 427.74,628.90" fill="#151515"/>
<rect x="415.14" y="630.30" width="2.20" height="1.30" rx="0.5" fill="#fff" stroke="none" stroke-width="0"/>
<rect x="429.34" y="630.30" width="2.20" height="1.30" rx="0.5" fill="#fff" stroke="none" stroke-width="0"/>
<text x="423.29" y="596.90" font-size="3.0" fill="#444" text-anchor="middle" font-family='"Liberation Sans", sans-serif' >14</text>
<text x="423.29" y="638.90" font-size="3.0" fill="#444" text-anchor="middle" font-family='"Liberation Sans", sans-serif' >13</text>
<path d="M436.21 604.70 V613.50 H451.11 V604.70" fill="none" stroke="#151515" stroke-width="1.1" />
<path d="M436.21 604.70 H439.71 L442.01 600.40 M451.11 604.70 H448.11 L446.91 600.40" fill="none" stroke="#151515" stroke-width="1.0" />
<polygon points="433.61,601.70 434.81,600.80 440.11,600.80 441.21,601.30 439.71,604.80 433.61,604.80" fill="#151515"/>
<polygon points="447.21,601.30 448.21,600.80 452.71,600.80 453.91,601.70 453.91,604.80 448.11,604.80" fill="#151515"/>
<rect x="435.51" y="602.10" width="2.20" height="1.30" rx="0.5" fill="#fff" stroke="none" stroke-width="0"/>
<rect x="449.71" y="602.10" width="2.20" height="1.30" rx="0.5" fill="#fff" stroke="none" stroke-width="0"/>
<path d="M436.21 629.00 V619.80 H451.11 V629.00" fill="none" stroke="#151515" stroke-width="1.1" />
<path d="M436.21 629.00 H439.71 L442.01 633.30 M451.11 629.00 H448.11 L446.91 633.30" fill="none" stroke="#151515" stroke-width="1.0" />
<polygon points="433.61,632.00 434.81,632.90 440.11,632.90 441.21,632.40 439.71,628.90 433.61,628.90" fill="#151515"/>
<polygon points="447.21,632.40 448.21,632.90 452.71,632.90 453.91,632.00 453.91,628.90 448.11,628.90" fill="#151515"/>
<rect x="435.51" y="630.30" width="2.20" height="1.30" rx="0.5" fill="#fff" stroke="none" stroke-width="0"/>
<rect x="449.71" y="630.30" width="2.20" height="1.30" rx="0.5" fill="#fff" stroke="none" stroke-width="0"/>
<text x="443.66" y="596.90" font-size="3.0" fill="#444" text-anchor="middle" font-family='"Liberation Sans", sans-serif' >16</text>
<text x="443.66" y="638.90" font-size="3.0" fill="#444" text-anchor="middle" font-family='"Liberation Sans", sans-serif' >15</text>
<rect x="482.80" y="599.70" width="41.97" height="34.30" rx="0" fill="none" stroke="#151515" stroke-width="1.5"/>
<path d="M486.30 604.70 V613.50 H501.20 V604.70" fill="none" stroke="#151515" stroke-width="1.1" />
<path d="M486.30 604.70 H489.80 L492.10 600.40 M501.20 604.70 H498.20 L497.00 600.40" fill="none" stroke="#151515" stroke-width="1.0" />
<polygon points="483.70,601.70 484.90,600.80 490.20,600.80 491.30,601.30 489.80,604.80 483.70,604.80" fill="#151515"/>
<polygon points="497.30,601.30 498.30,600.80 502.80,600.80 504.00,601.70 504.00,604.80 498.20,604.80" fill="#151515"/>
<rect x="485.60" y="602.10" width="2.20" height="1.30" rx="0.5" fill="#fff" stroke="none" stroke-width="0"/>
<rect x="499.80" y="602.10" width="2.20" height="1.30" rx="0.5" fill="#fff" stroke="none" stroke-width="0"/>
<path d="M486.30 629.00 V619.80 H501.20 V629.00" fill="none" stroke="#151515" stroke-width="1.1" />
<path d="M486.30 629.00 H489.80 L492.10 633.30 M501.20 629.00 H498.20 L497.00 633.30" fill="none" stroke="#151515" stroke-width="1.0" />
<polygon points="483.70,632.00 484.90,632.90 490.20,632.90 491.30,632.40 489.80,628.90 483.70,628.90" fill="#151515"/>
<polygon points="497.30,632.40 498.30,632.90 502.80,632.90 504.00,632.00 504.00,628.90 498.20,628.90" fill="#151515"/>
<rect x="485.60" y="630.30" width="2.20" height="1.30" rx="0.5" fill="#fff" stroke="none" stroke-width="0"/>
<rect x="499.80" y="630.30" width="2.20" height="1.30" rx="0.5" fill="#fff" stroke="none" stroke-width="0"/>
<text x="493.75" y="596.90" font-size="3.0" fill="#444" text-anchor="middle" font-family='"Liberation Sans", sans-serif' >18</text>
<text x="493.75" y="638.90" font-size="3.0" fill="#444" text-anchor="middle" font-family='"Liberation Sans", sans-serif' >17</text>
<path d="M506.67 604.70 V613.50 H521.57 V604.70" fill="none" stroke="#151515" stroke-width="1.1" />
<path d="M506.67 604.70 H510.17 L512.47 600.40 M521.57 604.70 H518.57 L517.37 600.40" fill="none" stroke="#151515" stroke-width="1.0" />
<polygon points="504.07,601.70 505.27,600.80 510.57,600.80 511.67,601.30 510.17,604.80 504.07,604.80" fill="#151515"/>
<polygon points="517.67,601.30 518.67,600.80 523.17,600.80 524.37,601.70 524.37,604.80 518.57,604.80" fill="#151515"/>
<rect x="505.97" y="602.10" width="2.20" height="1.30" rx="0.5" fill="#fff" stroke="none" stroke-width="0"/>
<rect x="520.17" y="602.10" width="2.20" height="1.30" rx="0.5" fill="#fff" stroke="none" stroke-width="0"/>
<path d="M506.67 629.00 V619.80 H521.57 V629.00" fill="none" stroke="#151515" stroke-width="1.1" />
<path d="M506.67 629.00 H510.17 L512.47 633.30 M521.57 629.00 H518.57 L517.37 633.30" fill="none" stroke="#151515" stroke-width="1.0" />
<polygon points="504.07,632.00 505.27,632.90 510.57,632.90 511.67,632.40 510.17,628.90 504.07,628.90" fill="#151515"/>
<polygon points="517.67,632.40 518.67,632.90 523.17,632.90 524.37,632.00 524.37,628.90 518.57,628.90" fill="#151515"/>
<rect x="505.97" y="630.30" width="2.20" height="1.30" rx="0.5" fill="#fff" stroke="none" stroke-width="0"/>
<rect x="520.17" y="630.30" width="2.20" height="1.30" rx="0.5" fill="#fff" stroke="none" stroke-width="0"/>
<text x="514.12" y="596.90" font-size="3.0" fill="#444" text-anchor="middle" font-family='"Liberation Sans", sans-serif' >20</text>
<text x="514.12" y="638.90" font-size="3.0" fill="#444" text-anchor="middle" font-family='"Liberation Sans", sans-serif' >19</text>
<rect x="547.80" y="599.20" width="31.95" height="12.30" rx="0" fill="none" stroke="#151515" stroke-width="1.9"/>
<path d="M548.60 600.00 L556.30 602.95 M548.60 610.70 L556.30 607.75 M578.95 600.00 L571.30 602.95 M578.95 610.70 L571.30 607.75" fill="none" stroke="#151515" stroke-width="1.45" />
<rect x="556.30" y="602.95" width="15.00" height="4.80" rx="0" fill="none" stroke="#151515" stroke-width="1.7"/>
<rect x="547.80" y="621.30" width="31.95" height="12.30" rx="0" fill="none" stroke="#151515" stroke-width="1.9"/>
<path d="M548.60 622.10 L556.30 625.05 M548.60 632.80 L556.30 629.85 M578.95 622.10 L571.30 625.05 M578.95 632.80 L571.30 629.85" fill="none" stroke="#151515" stroke-width="1.45" />
<rect x="556.30" y="625.05" width="15.00" height="4.80" rx="0" fill="none" stroke="#151515" stroke-width="1.7"/>
<circle cx="563.67" cy="615.90" r="2.15" fill="#222" stroke="#151515" stroke-width="1.2"/>
<circle cx="563.67" cy="637.70" r="2.15" fill="#222" stroke="#151515" stroke-width="1.2"/>
<text x="558.77" y="617.00" font-size="3.0" fill="#333" text-anchor="end" font-family='"Liberation Sans", sans-serif' >TX</text>
<text x="568.77" y="617.00" font-size="3.0" fill="#333" text-anchor="start" font-family='"Liberation Sans", sans-serif' >RX</text>
<text x="566.88" y="638.80" font-size="3.0" fill="#333" text-anchor="start" font-family='"Liberation Sans", sans-serif' >21</text>
<text x="568.67" y="596.30" font-size="3.0" fill="#444" text-anchor="middle" font-family='"Liberation Sans", sans-serif' >22</text>
<rect x="579.75" y="599.20" width="31.95" height="12.30" rx="0" fill="none" stroke="#151515" stroke-width="1.9"/>
<path d="M580.55 600.00 L588.25 602.95 M580.55 610.70 L588.25 607.75 M610.90 600.00 L603.25 602.95 M610.90 610.70 L603.25 607.75" fill="none" stroke="#151515" stroke-width="1.45" />
<rect x="588.25" y="602.95" width="15.00" height="4.80" rx="0" fill="none" stroke="#151515" stroke-width="1.7"/>
<rect x="579.75" y="621.30" width="31.95" height="12.30" rx="0" fill="none" stroke="#151515" stroke-width="1.9"/>
<path d="M580.55 622.10 L588.25 625.05 M580.55 632.80 L588.25 629.85 M610.90 622.10 L603.25 625.05 M610.90 632.80 L603.25 629.85" fill="none" stroke="#151515" stroke-width="1.45" />
<rect x="588.25" y="625.05" width="15.00" height="4.80" rx="0" fill="none" stroke="#151515" stroke-width="1.7"/>
<circle cx="595.62" cy="615.90" r="2.15" fill="#222" stroke="#151515" stroke-width="1.2"/>
<circle cx="595.62" cy="637.70" r="2.15" fill="#222" stroke="#151515" stroke-width="1.2"/>
<text x="590.73" y="617.00" font-size="3.0" fill="#333" text-anchor="end" font-family='"Liberation Sans", sans-serif' >TX</text>
<text x="600.73" y="617.00" font-size="3.0" fill="#333" text-anchor="start" font-family='"Liberation Sans", sans-serif' >RX</text>
<text x="598.83" y="638.80" font-size="3.0" fill="#333" text-anchor="start" font-family='"Liberation Sans", sans-serif' >23</text>
<text x="600.62" y="596.30" font-size="3.0" fill="#444" text-anchor="middle" font-family='"Liberation Sans", sans-serif' >24</text>
<line x1="736.30" y1="594.30" x2="736.30" y2="598.60" stroke="#151515" stroke-width="0.9" />
<path d="M739.4 596.20 V594.60 H749.4 V598.60 M742.6 594.60 V598.60 M746.3 594.60 V598.60" fill="none" stroke="#151515" stroke-width="0.9" />
<text x="754.00" y="598.30" font-size="3.0" fill="#333" text-anchor="start" font-family='"Liberation Sans", sans-serif' >ALARM</text>
<rect x="726.90" y="602.10" width="32.00" height="10.70" rx="0" fill="none" stroke="#151515" stroke-width="1.7"/>
<line x1="726.90" y1="603.00" x2="758.90" y2="603.00" stroke="#151515" stroke-width="1.8" />
<circle cx="730.10" cy="607.90" r="1.55" fill="none" stroke="#151515" stroke-width="1.3"/>
<circle cx="755.40" cy="607.90" r="1.55" fill="none" stroke="#151515" stroke-width="1.3"/>
<rect x="733.20" y="604.60" width="19.00" height="7.40" rx="1.2" fill="none" stroke="#151515" stroke-width="0.9"/>
<circle cx="736.40" cy="608.50" r="1.95" fill="#1a1a1a" stroke="none" stroke-width="0"/>
<circle cx="742.50" cy="608.50" r="1.95" fill="#1a1a1a" stroke="none" stroke-width="0"/>
<circle cx="748.70" cy="608.50" r="1.95" fill="#1a1a1a" stroke="none" stroke-width="0"/>
<text x="740.00" y="620.30" font-size="3.0" fill="#333" text-anchor="middle" font-family='"Liberation Sans", sans-serif' >PWR1</text>
<text x="759.00" y="620.30" font-size="3.0" fill="#333" text-anchor="middle" font-family='"Liberation Sans", sans-serif' >PWR2</text>
<rect x="726.90" y="624.40" width="44.60" height="10.70" rx="0" fill="none" stroke="#151515" stroke-width="1.7"/>
<line x1="726.90" y1="625.30" x2="771.50" y2="625.30" stroke="#151515" stroke-width="1.8" />
<circle cx="730.10" cy="630.20" r="1.55" fill="none" stroke="#151515" stroke-width="1.3"/>
<circle cx="768.30" cy="630.20" r="1.55" fill="none" stroke="#151515" stroke-width="1.3"/>
<rect x="733.20" y="626.60" width="31.60" height="7.60" rx="1.2" fill="none" stroke="#151515" stroke-width="0.9"/>
<circle cx="736.40" cy="630.80" r="1.95" fill="#1a1a1a" stroke="none" stroke-width="0"/>
<circle cx="742.50" cy="630.80" r="1.95" fill="#1a1a1a" stroke="none" stroke-width="0"/>
<circle cx="749.00" cy="630.80" r="1.95" fill="#1a1a1a" stroke="none" stroke-width="0"/>
<circle cx="755.40" cy="630.80" r="1.95" fill="#1a1a1a" stroke="none" stroke-width="0"/>
<circle cx="761.70" cy="630.80" r="1.95" fill="#1a1a1a" stroke="none" stroke-width="0"/>
<text x="736.40" y="638.70" font-size="3.0" fill="#222" text-anchor="middle" font-family='"Liberation Sans", sans-serif' >V1-</text>
<text x="742.50" y="638.70" font-size="3.0" fill="#222" text-anchor="middle" font-family='"Liberation Sans", sans-serif' >V1+</text>
<text x="755.40" y="638.70" font-size="3.0" fill="#222" text-anchor="middle" font-family='"Liberation Sans", sans-serif' >V2-</text>
<text x="761.70" y="638.70" font-size="3.0" fill="#222" text-anchor="middle" font-family='"Liberation Sans", sans-serif' >V2+</text>
<text x="736.40" y="641.80" font-size="3.4" fill="#222" text-anchor="middle" font-family='"Liberation Sans", sans-serif' >−</text>
<text x="742.50" y="641.80" font-size="3.4" fill="#222" text-anchor="middle" font-family='"Liberation Sans", sans-serif' >+</text>
<text x="755.40" y="641.80" font-size="3.4" fill="#222" text-anchor="middle" font-family='"Liberation Sans", sans-serif' >−</text>
<text x="761.70" y="641.80" font-size="3.4" fill="#222" text-anchor="middle" font-family='"Liberation Sans", sans-serif' >+</text>
<circle cx="749.00" cy="638.00" r="1.4" fill="none" stroke="#222" stroke-width="0.9"/>
<line x1="749.00" y1="637.00" x2="749.00" y2="639.00" stroke="#222" stroke-width="0.7" />
<circle cx="778.20" cy="606.00" r="2.9" fill="none" stroke="#151515" stroke-width="2.7"/>
<circle cx="778.20" cy="614.80" r="2.3" fill="none" stroke="#151515" stroke-width="1.15"/>
<path d="M778.2 613.20 V615.00 M776.9 615.00 H779.5 M777.4 615.90 H779.0" fill="none" stroke="#151515" stroke-width="0.9" />
<text fill="#2f93a0"><tspan x="233.94" y="583.40" font-size="14.2" font-family='"Noto Sans CJK SC", sans-serif' font-weight="400" textLength="8.55" lengthAdjust="spacingAndGlyphs">4</tspan><tspan x="245.45" y="583.60" font-size="14.6" font-family='"Noto Sans CJK SC", sans-serif' font-weight="400" textLength="17.61" lengthAdjust="spacingAndGlyphs">光</tspan><tspan x="263.61" y="583.40" font-size="14.2" font-family='"Noto Sans CJK SC", sans-serif' font-weight="400" textLength="20.57" lengthAdjust="spacingAndGlyphs">20</tspan><tspan x="284.97" y="583.60" font-size="14.6" font-family='"Noto Sans CJK SC", sans-serif' font-weight="400" textLength="16.02" lengthAdjust="spacingAndGlyphs">电</tspan></text>
<path d="M240.2 680.90 H216 Q213.4 680.90 213.4 683.50 V733.30 Q213.4 735.90 216 735.90 H240.2" fill="none" stroke="#151515" stroke-width="1.05" />
<line x1="237.30" y1="680.90" x2="237.30" y2="735.90" stroke="#151515" stroke-width="1.0" />
<line x1="237.30" y1="683.30" x2="240.20" y2="683.30" stroke="#444" stroke-width="0.7" />
<line x1="237.30" y1="733.50" x2="240.20" y2="733.50" stroke="#444" stroke-width="0.7" />
<path d="M793.6 680.90 H817.8 Q820.4 680.90 820.4 683.50 V733.30 Q820.4 735.90 817.8 735.90 H793.6" fill="none" stroke="#151515" stroke-width="1.05" />
<line x1="796.50" y1="680.90" x2="796.50" y2="735.90" stroke="#151515" stroke-width="1.0" />
<line x1="793.60" y1="683.30" x2="796.50" y2="683.30" stroke="#444" stroke-width="0.7" />
<line x1="793.60" y1="733.50" x2="796.50" y2="733.50" stroke="#444" stroke-width="0.7" />
<rect x="217.35" y="683.65" width="14.30" height="9.30" rx="4.65" fill="none" stroke="#151515" stroke-width="1.2"/>
<rect x="217.35" y="723.75" width="14.30" height="9.30" rx="4.65" fill="none" stroke="#151515" stroke-width="1.2"/>
<rect x="802.25" y="683.65" width="14.30" height="9.30" rx="4.65" fill="none" stroke="#151515" stroke-width="1.2"/>
<rect x="802.25" y="723.75" width="14.30" height="9.30" rx="4.65" fill="none" stroke="#151515" stroke-width="1.2"/>
<rect x="241.10" y="682.00" width="551.60" height="53.50" rx="0" fill="none" stroke="#151515" stroke-width="2.0"/>
<line x1="242.00" y1="683.80" x2="791.80" y2="683.80" stroke="#777" stroke-width="0.5" />
<rect x="260.00" y="690.10" width="82.71" height="34.30" rx="0" fill="none" stroke="#151515" stroke-width="1.5"/>
<path d="M263.50 695.10 V703.90 H278.40 V695.10" fill="none" stroke="#151515" stroke-width="1.1" />
<path d="M263.50 695.10 H267.00 L269.30 690.80 M278.40 695.10 H275.40 L274.20 690.80" fill="none" stroke="#151515" stroke-width="1.0" />
<polygon points="260.90,692.10 262.10,691.20 267.40,691.20 268.50,691.70 267.00,695.20 260.90,695.20" fill="#151515"/>
<polygon points="274.50,691.70 275.50,691.20 280.00,691.20 281.20,692.10 281.20,695.20 275.40,695.20" fill="#151515"/>
<rect x="262.80" y="692.50" width="2.20" height="1.30" rx="0.5" fill="#fff" stroke="none" stroke-width="0"/>
<rect x="277.00" y="692.50" width="2.20" height="1.30" rx="0.5" fill="#fff" stroke="none" stroke-width="0"/>
<path d="M263.50 719.40 V710.20 H278.40 V719.40" fill="none" stroke="#151515" stroke-width="1.1" />
<path d="M263.50 719.40 H267.00 L269.30 723.70 M278.40 719.40 H275.40 L274.20 723.70" fill="none" stroke="#151515" stroke-width="1.0" />
<polygon points="260.90,722.40 262.10,723.30 267.40,723.30 268.50,722.80 267.00,719.30 260.90,719.30" fill="#151515"/>
<polygon points="274.50,722.80 275.50,723.30 280.00,723.30 281.20,722.40 281.20,719.30 275.40,719.30" fill="#151515"/>
<rect x="262.80" y="720.70" width="2.20" height="1.30" rx="0.5" fill="#fff" stroke="none" stroke-width="0"/>
<rect x="277.00" y="720.70" width="2.20" height="1.30" rx="0.5" fill="#fff" stroke="none" stroke-width="0"/>
<text x="270.95" y="687.30" font-size="3.0" fill="#444" text-anchor="middle" font-family='"Liberation Sans", sans-serif' >2</text>
<text x="270.95" y="729.30" font-size="3.0" fill="#444" text-anchor="middle" font-family='"Liberation Sans", sans-serif' >1</text>
<path d="M283.87 695.10 V703.90 H298.77 V695.10" fill="none" stroke="#151515" stroke-width="1.1" />
<path d="M283.87 695.10 H287.37 L289.67 690.80 M298.77 695.10 H295.77 L294.57 690.80" fill="none" stroke="#151515" stroke-width="1.0" />
<polygon points="281.27,692.10 282.47,691.20 287.77,691.20 288.87,691.70 287.37,695.20 281.27,695.20" fill="#151515"/>
<polygon points="294.87,691.70 295.87,691.20 300.37,691.20 301.57,692.10 301.57,695.20 295.77,695.20" fill="#151515"/>
<rect x="283.17" y="692.50" width="2.20" height="1.30" rx="0.5" fill="#fff" stroke="none" stroke-width="0"/>
<rect x="297.37" y="692.50" width="2.20" height="1.30" rx="0.5" fill="#fff" stroke="none" stroke-width="0"/>
<path d="M283.87 719.40 V710.20 H298.77 V719.40" fill="none" stroke="#151515" stroke-width="1.1" />
<path d="M283.87 719.40 H287.37 L289.67 723.70 M298.77 719.40 H295.77 L294.57 723.70" fill="none" stroke="#151515" stroke-width="1.0" />
<polygon points="281.27,722.40 282.47,723.30 287.77,723.30 288.87,722.80 287.37,719.30 281.27,719.30" fill="#151515"/>
<polygon points="294.87,722.80 295.87,723.30 300.37,723.30 301.57,722.40 301.57,719.30 295.77,719.30" fill="#151515"/>
<rect x="283.17" y="720.70" width="2.20" height="1.30" rx="0.5" fill="#fff" stroke="none" stroke-width="0"/>
<rect x="297.37" y="720.70" width="2.20" height="1.30" rx="0.5" fill="#fff" stroke="none" stroke-width="0"/>
<text x="291.32" y="687.30" font-size="3.0" fill="#444" text-anchor="middle" font-family='"Liberation Sans", sans-serif' >4</text>
<text x="291.32" y="729.30" font-size="3.0" fill="#444" text-anchor="middle" font-family='"Liberation Sans", sans-serif' >3</text>
<path d="M304.24 695.10 V703.90 H319.14 V695.10" fill="none" stroke="#151515" stroke-width="1.1" />
<path d="M304.24 695.10 H307.74 L310.04 690.80 M319.14 695.10 H316.14 L314.94 690.80" fill="none" stroke="#151515" stroke-width="1.0" />
<polygon points="301.64,692.10 302.84,691.20 308.14,691.20 309.24,691.70 307.74,695.20 301.64,695.20" fill="#151515"/>
<polygon points="315.24,691.70 316.24,691.20 320.74,691.20 321.94,692.10 321.94,695.20 316.14,695.20" fill="#151515"/>
<rect x="303.54" y="692.50" width="2.20" height="1.30" rx="0.5" fill="#fff" stroke="none" stroke-width="0"/>
<rect x="317.74" y="692.50" width="2.20" height="1.30" rx="0.5" fill="#fff" stroke="none" stroke-width="0"/>
<path d="M304.24 719.40 V710.20 H319.14 V719.40" fill="none" stroke="#151515" stroke-width="1.1" />
<path d="M304.24 719.40 H307.74 L310.04 723.70 M319.14 719.40 H316.14 L314.94 723.70" fill="none" stroke="#151515" stroke-width="1.0" />
<polygon points="301.64,722.40 302.84,723.30 308.14,723.30 309.24,722.80 307.74,719.30 301.64,719.30" fill="#151515"/>
<polygon points="315.24,722.80 316.24,723.30 320.74,723.30 321.94,722.40 321.94,719.30 316.14,719.30" fill="#151515"/>
<rect x="303.54" y="720.70" width="2.20" height="1.30" rx="0.5" fill="#fff" stroke="none" stroke-width="0"/>
<rect x="317.74" y="720.70" width="2.20" height="1.30" rx="0.5" fill="#fff" stroke="none" stroke-width="0"/>
<text x="311.69" y="687.30" font-size="3.0" fill="#444" text-anchor="middle" font-family='"Liberation Sans", sans-serif' >6</text>
<text x="311.69" y="729.30" font-size="3.0" fill="#444" text-anchor="middle" font-family='"Liberation Sans", sans-serif' >5</text>
<path d="M324.61 695.10 V703.90 H339.51 V695.10" fill="none" stroke="#151515" stroke-width="1.1" />
<path d="M324.61 695.10 H328.11 L330.41 690.80 M339.51 695.10 H336.51 L335.31 690.80" fill="none" stroke="#151515" stroke-width="1.0" />
<polygon points="322.01,692.10 323.21,691.20 328.51,691.20 329.61,691.70 328.11,695.20 322.01,695.20" fill="#151515"/>
<polygon points="335.61,691.70 336.61,691.20 341.11,691.20 342.31,692.10 342.31,695.20 336.51,695.20" fill="#151515"/>
<rect x="323.91" y="692.50" width="2.20" height="1.30" rx="0.5" fill="#fff" stroke="none" stroke-width="0"/>
<rect x="338.11" y="692.50" width="2.20" height="1.30" rx="0.5" fill="#fff" stroke="none" stroke-width="0"/>
<path d="M324.61 719.40 V710.20 H339.51 V719.40" fill="none" stroke="#151515" stroke-width="1.1" />
<path d="M324.61 719.40 H328.11 L330.41 723.70 M339.51 719.40 H336.51 L335.31 723.70" fill="none" stroke="#151515" stroke-width="1.0" />
<polygon points="322.01,722.40 323.21,723.30 328.51,723.30 329.61,722.80 328.11,719.30 322.01,719.30" fill="#151515"/>
<polygon points="335.61,722.80 336.61,723.30 341.11,723.30 342.31,722.40 342.31,719.30 336.51,719.30" fill="#151515"/>
<rect x="323.91" y="720.70" width="2.20" height="1.30" rx="0.5" fill="#fff" stroke="none" stroke-width="0"/>
<rect x="338.11" y="720.70" width="2.20" height="1.30" rx="0.5" fill="#fff" stroke="none" stroke-width="0"/>
<text x="332.06" y="687.30" font-size="3.0" fill="#444" text-anchor="middle" font-family='"Liberation Sans", sans-serif' >8</text>
<text x="332.06" y="729.30" font-size="3.0" fill="#444" text-anchor="middle" font-family='"Liberation Sans", sans-serif' >7</text>
<rect x="371.60" y="690.10" width="82.71" height="34.30" rx="0" fill="none" stroke="#151515" stroke-width="1.5"/>
<path d="M375.10 695.10 V703.90 H390.00 V695.10" fill="none" stroke="#151515" stroke-width="1.1" />
<path d="M375.10 695.10 H378.60 L380.90 690.80 M390.00 695.10 H387.00 L385.80 690.80" fill="none" stroke="#151515" stroke-width="1.0" />
<polygon points="372.50,692.10 373.70,691.20 379.00,691.20 380.10,691.70 378.60,695.20 372.50,695.20" fill="#151515"/>
<polygon points="386.10,691.70 387.10,691.20 391.60,691.20 392.80,692.10 392.80,695.20 387.00,695.20" fill="#151515"/>
<rect x="374.40" y="692.50" width="2.20" height="1.30" rx="0.5" fill="#fff" stroke="none" stroke-width="0"/>
<rect x="388.60" y="692.50" width="2.20" height="1.30" rx="0.5" fill="#fff" stroke="none" stroke-width="0"/>
<path d="M375.10 719.40 V710.20 H390.00 V719.40" fill="none" stroke="#151515" stroke-width="1.1" />
<path d="M375.10 719.40 H378.60 L380.90 723.70 M390.00 719.40 H387.00 L385.80 723.70" fill="none" stroke="#151515" stroke-width="1.0" />
<polygon points="372.50,722.40 373.70,723.30 379.00,723.30 380.10,722.80 378.60,719.30 372.50,719.30" fill="#151515"/>
<polygon points="386.10,722.80 387.10,723.30 391.60,723.30 392.80,722.40 392.80,719.30 387.00,719.30" fill="#151515"/>
<rect x="374.40" y="720.70" width="2.20" height="1.30" rx="0.5" fill="#fff" stroke="none" stroke-width="0"/>
<rect x="388.60" y="720.70" width="2.20" height="1.30" rx="0.5" fill="#fff" stroke="none" stroke-width="0"/>
<text x="382.55" y="687.30" font-size="3.0" fill="#444" text-anchor="middle" font-family='"Liberation Sans", sans-serif' >10</text>
<text x="382.55" y="729.30" font-size="3.0" fill="#444" text-anchor="middle" font-family='"Liberation Sans", sans-serif' >9</text>
<path d="M395.47 695.10 V703.90 H410.37 V695.10" fill="none" stroke="#151515" stroke-width="1.1" />
<path d="M395.47 695.10 H398.97 L401.27 690.80 M410.37 695.10 H407.37 L406.17 690.80" fill="none" stroke="#151515" stroke-width="1.0" />
<polygon points="392.87,692.10 394.07,691.20 399.37,691.20 400.47,691.70 398.97,695.20 392.87,695.20" fill="#151515"/>
<polygon points="406.47,691.70 407.47,691.20 411.97,691.20 413.17,692.10 413.17,695.20 407.37,695.20" fill="#151515"/>
<rect x="394.77" y="692.50" width="2.20" height="1.30" rx="0.5" fill="#fff" stroke="none" stroke-width="0"/>
<rect x="408.97" y="692.50" width="2.20" height="1.30" rx="0.5" fill="#fff" stroke="none" stroke-width="0"/>
<path d="M395.47 719.40 V710.20 H410.37 V719.40" fill="none" stroke="#151515" stroke-width="1.1" />
<path d="M395.47 719.40 H398.97 L401.27 723.70 M410.37 719.40 H407.37 L406.17 723.70" fill="none" stroke="#151515" stroke-width="1.0" />
<polygon points="392.87,722.40 394.07,723.30 399.37,723.30 400.47,722.80 398.97,719.30 392.87,719.30" fill="#151515"/>
<polygon points="406.47,722.80 407.47,723.30 411.97,723.30 413.17,722.40 413.17,719.30 407.37,719.30" fill="#151515"/>
<rect x="394.77" y="720.70" width="2.20" height="1.30" rx="0.5" fill="#fff" stroke="none" stroke-width="0"/>
<rect x="408.97" y="720.70" width="2.20" height="1.30" rx="0.5" fill="#fff" stroke="none" stroke-width="0"/>
<text x="402.92" y="687.30" font-size="3.0" fill="#444" text-anchor="middle" font-family='"Liberation Sans", sans-serif' >12</text>
<text x="402.92" y="729.30" font-size="3.0" fill="#444" text-anchor="middle" font-family='"Liberation Sans", sans-serif' >11</text>
<path d="M415.84 695.10 V703.90 H430.74 V695.10" fill="none" stroke="#151515" stroke-width="1.1" />
<path d="M415.84 695.10 H419.34 L421.64 690.80 M430.74 695.10 H427.74 L426.54 690.80" fill="none" stroke="#151515" stroke-width="1.0" />
<polygon points="413.24,692.10 414.44,691.20 419.74,691.20 420.84,691.70 419.34,695.20 413.24,695.20" fill="#151515"/>
<polygon points="426.84,691.70 427.84,691.20 432.34,691.20 433.54,692.10 433.54,695.20 427.74,695.20" fill="#151515"/>
<rect x="415.14" y="692.50" width="2.20" height="1.30" rx="0.5" fill="#fff" stroke="none" stroke-width="0"/>
<rect x="429.34" y="692.50" width="2.20" height="1.30" rx="0.5" fill="#fff" stroke="none" stroke-width="0"/>
<path d="M415.84 719.40 V710.20 H430.74 V719.40" fill="none" stroke="#151515" stroke-width="1.1" />
<path d="M415.84 719.40 H419.34 L421.64 723.70 M430.74 719.40 H427.74 L426.54 723.70" fill="none" stroke="#151515" stroke-width="1.0" />
<polygon points="413.24,722.40 414.44,723.30 419.74,723.30 420.84,722.80 419.34,719.30 413.24,719.30" fill="#151515"/>
<polygon points="426.84,722.80 427.84,723.30 432.34,723.30 433.54,722.40 433.54,719.30 427.74,719.30" fill="#151515"/>
<rect x="415.14" y="720.70" width="2.20" height="1.30" rx="0.5" fill="#fff" stroke="none" stroke-width="0"/>
<rect x="429.34" y="720.70" width="2.20" height="1.30" rx="0.5" fill="#fff" stroke="none" stroke-width="0"/>
<text x="423.29" y="687.30" font-size="3.0" fill="#444" text-anchor="middle" font-family='"Liberation Sans", sans-serif' >14</text>
<text x="423.29" y="729.30" font-size="3.0" fill="#444" text-anchor="middle" font-family='"Liberation Sans", sans-serif' >13</text>
<path d="M436.21 695.10 V703.90 H451.11 V695.10" fill="none" stroke="#151515" stroke-width="1.1" />
<path d="M436.21 695.10 H439.71 L442.01 690.80 M451.11 695.10 H448.11 L446.91 690.80" fill="none" stroke="#151515" stroke-width="1.0" />
<polygon points="433.61,692.10 434.81,691.20 440.11,691.20 441.21,691.70 439.71,695.20 433.61,695.20" fill="#151515"/>
<polygon points="447.21,691.70 448.21,691.20 452.71,691.20 453.91,692.10 453.91,695.20 448.11,695.20" fill="#151515"/>
<rect x="435.51" y="692.50" width="2.20" height="1.30" rx="0.5" fill="#fff" stroke="none" stroke-width="0"/>
<rect x="449.71" y="692.50" width="2.20" height="1.30" rx="0.5" fill="#fff" stroke="none" stroke-width="0"/>
<path d="M436.21 719.40 V710.20 H451.11 V719.40" fill="none" stroke="#151515" stroke-width="1.1" />
<path d="M436.21 719.40 H439.71 L442.01 723.70 M451.11 719.40 H448.11 L446.91 723.70" fill="none" stroke="#151515" stroke-width="1.0" />
<polygon points="433.61,722.40 434.81,723.30 440.11,723.30 441.21,722.80 439.71,719.30 433.61,719.30" fill="#151515"/>
<polygon points="447.21,722.80 448.21,723.30 452.71,723.30 453.91,722.40 453.91,719.30 448.11,719.30" fill="#151515"/>
<rect x="435.51" y="720.70" width="2.20" height="1.30" rx="0.5" fill="#fff" stroke="none" stroke-width="0"/>
<rect x="449.71" y="720.70" width="2.20" height="1.30" rx="0.5" fill="#fff" stroke="none" stroke-width="0"/>
<text x="443.66" y="687.30" font-size="3.0" fill="#444" text-anchor="middle" font-family='"Liberation Sans", sans-serif' >16</text>
<text x="443.66" y="729.30" font-size="3.0" fill="#444" text-anchor="middle" font-family='"Liberation Sans", sans-serif' >15</text>
<rect x="483.00" y="689.60" width="32.18" height="12.30" rx="0" fill="none" stroke="#151515" stroke-width="1.9"/>
<path d="M483.80 690.40 L491.50 693.35 M483.80 701.10 L491.50 698.15 M514.38 690.40 L506.50 693.35 M514.38 701.10 L506.50 698.15" fill="none" stroke="#151515" stroke-width="1.45" />
<rect x="491.50" y="693.35" width="15.00" height="4.80" rx="0" fill="none" stroke="#151515" stroke-width="1.7"/>
<rect x="483.00" y="711.70" width="32.18" height="12.30" rx="0" fill="none" stroke="#151515" stroke-width="1.9"/>
<path d="M483.80 712.50 L491.50 715.45 M483.80 723.20 L491.50 720.25 M514.38 712.50 L506.50 715.45 M514.38 723.20 L506.50 720.25" fill="none" stroke="#151515" stroke-width="1.45" />
<rect x="491.50" y="715.45" width="15.00" height="4.80" rx="0" fill="none" stroke="#151515" stroke-width="1.7"/>
<circle cx="498.99" cy="706.30" r="2.15" fill="#222" stroke="#151515" stroke-width="1.2"/>
<circle cx="498.99" cy="728.10" r="2.15" fill="#222" stroke="#151515" stroke-width="1.2"/>
<text x="494.09" y="707.40" font-size="3.0" fill="#333" text-anchor="end" font-family='"Liberation Sans", sans-serif' >TX</text>
<text x="504.09" y="707.40" font-size="3.0" fill="#333" text-anchor="start" font-family='"Liberation Sans", sans-serif' >RX</text>
<text x="502.19" y="729.20" font-size="3.0" fill="#333" text-anchor="start" font-family='"Liberation Sans", sans-serif' >17</text>
<text x="503.99" y="686.70" font-size="3.0" fill="#444" text-anchor="middle" font-family='"Liberation Sans", sans-serif' >18</text>
<rect x="515.18" y="689.60" width="32.18" height="12.30" rx="0" fill="none" stroke="#151515" stroke-width="1.9"/>
<path d="M515.98 690.40 L523.68 693.35 M515.98 701.10 L523.68 698.15 M546.56 690.40 L538.68 693.35 M546.56 701.10 L538.68 698.15" fill="none" stroke="#151515" stroke-width="1.45" />
<rect x="523.68" y="693.35" width="15.00" height="4.80" rx="0" fill="none" stroke="#151515" stroke-width="1.7"/>
<rect x="515.18" y="711.70" width="32.18" height="12.30" rx="0" fill="none" stroke="#151515" stroke-width="1.9"/>
<path d="M515.98 712.50 L523.68 715.45 M515.98 723.20 L523.68 720.25 M546.56 712.50 L538.68 715.45 M546.56 723.20 L538.68 720.25" fill="none" stroke="#151515" stroke-width="1.45" />
<rect x="523.68" y="715.45" width="15.00" height="4.80" rx="0" fill="none" stroke="#151515" stroke-width="1.7"/>
<circle cx="531.17" cy="706.30" r="2.15" fill="#222" stroke="#151515" stroke-width="1.2"/>
<circle cx="531.17" cy="728.10" r="2.15" fill="#222" stroke="#151515" stroke-width="1.2"/>
<text x="526.27" y="707.40" font-size="3.0" fill="#333" text-anchor="end" font-family='"Liberation Sans", sans-serif' >TX</text>
<text x="536.27" y="707.40" font-size="3.0" fill="#333" text-anchor="start" font-family='"Liberation Sans", sans-serif' >RX</text>
<text x="534.37" y="729.20" font-size="3.0" fill="#333" text-anchor="start" font-family='"Liberation Sans", sans-serif' >19</text>
<text x="536.17" y="686.70" font-size="3.0" fill="#444" text-anchor="middle" font-family='"Liberation Sans", sans-serif' >20</text>
<rect x="547.36" y="689.60" width="32.18" height="12.30" rx="0" fill="none" stroke="#151515" stroke-width="1.9"/>
<path d="M548.16 690.40 L555.86 693.35 M548.16 701.10 L555.86 698.15 M578.74 690.40 L570.86 693.35 M578.74 701.10 L570.86 698.15" fill="none" stroke="#151515" stroke-width="1.45" />
<rect x="555.86" y="693.35" width="15.00" height="4.80" rx="0" fill="none" stroke="#151515" stroke-width="1.7"/>
<rect x="547.36" y="711.70" width="32.18" height="12.30" rx="0" fill="none" stroke="#151515" stroke-width="1.9"/>
<path d="M548.16 712.50 L555.86 715.45 M548.16 723.20 L555.86 720.25 M578.74 712.50 L570.86 715.45 M578.74 723.20 L570.86 720.25" fill="none" stroke="#151515" stroke-width="1.45" />
<rect x="555.86" y="715.45" width="15.00" height="4.80" rx="0" fill="none" stroke="#151515" stroke-width="1.7"/>
<circle cx="563.35" cy="706.30" r="2.15" fill="#222" stroke="#151515" stroke-width="1.2"/>
<circle cx="563.35" cy="728.10" r="2.15" fill="#222" stroke="#151515" stroke-width="1.2"/>
<text x="558.45" y="707.40" font-size="3.0" fill="#333" text-anchor="end" font-family='"Liberation Sans", sans-serif' >TX</text>
<text x="568.45" y="707.40" font-size="3.0" fill="#333" text-anchor="start" font-family='"Liberation Sans", sans-serif' >RX</text>
<text x="566.55" y="729.20" font-size="3.0" fill="#333" text-anchor="start" font-family='"Liberation Sans", sans-serif' >21</text>
<text x="568.35" y="686.70" font-size="3.0" fill="#444" text-anchor="middle" font-family='"Liberation Sans", sans-serif' >22</text>
<rect x="579.54" y="689.60" width="32.18" height="12.30" rx="0" fill="none" stroke="#151515" stroke-width="1.9"/>
<path d="M580.34 690.40 L588.04 693.35 M580.34 701.10 L588.04 698.15 M610.92 690.40 L603.04 693.35 M610.92 701.10 L603.04 698.15" fill="none" stroke="#151515" stroke-width="1.45" />
<rect x="588.04" y="693.35" width="15.00" height="4.80" rx="0" fill="none" stroke="#151515" stroke-width="1.7"/>
<rect x="579.54" y="711.70" width="32.18" height="12.30" rx="0" fill="none" stroke="#151515" stroke-width="1.9"/>
<path d="M580.34 712.50 L588.04 715.45 M580.34 723.20 L588.04 720.25 M610.92 712.50 L603.04 715.45 M610.92 723.20 L603.04 720.25" fill="none" stroke="#151515" stroke-width="1.45" />
<rect x="588.04" y="715.45" width="15.00" height="4.80" rx="0" fill="none" stroke="#151515" stroke-width="1.7"/>
<circle cx="595.53" cy="706.30" r="2.15" fill="#222" stroke="#151515" stroke-width="1.2"/>
<circle cx="595.53" cy="728.10" r="2.15" fill="#222" stroke="#151515" stroke-width="1.2"/>
<text x="590.63" y="707.40" font-size="3.0" fill="#333" text-anchor="end" font-family='"Liberation Sans", sans-serif' >TX</text>
<text x="600.63" y="707.40" font-size="3.0" fill="#333" text-anchor="start" font-family='"Liberation Sans", sans-serif' >RX</text>
<text x="598.73" y="729.20" font-size="3.0" fill="#333" text-anchor="start" font-family='"Liberation Sans", sans-serif' >23</text>
<text x="600.53" y="686.70" font-size="3.0" fill="#444" text-anchor="middle" font-family='"Liberation Sans", sans-serif' >24</text>
<line x1="736.30" y1="684.70" x2="736.30" y2="689.00" stroke="#151515" stroke-width="0.9" />
<path d="M739.4 686.60 V685.00 H749.4 V689.00 M742.6 685.00 V689.00 M746.3 685.00 V689.00" fill="none" stroke="#151515" stroke-width="0.9" />
<text x="754.00" y="688.70" font-size="3.0" fill="#333" text-anchor="start" font-family='"Liberation Sans", sans-serif' >ALARM</text>
<rect x="726.90" y="692.50" width="32.00" height="10.70" rx="0" fill="none" stroke="#151515" stroke-width="1.7"/>
<line x1="726.90" y1="693.40" x2="758.90" y2="693.40" stroke="#151515" stroke-width="1.8" />
<circle cx="730.10" cy="698.30" r="1.55" fill="none" stroke="#151515" stroke-width="1.3"/>
<circle cx="755.40" cy="698.30" r="1.55" fill="none" stroke="#151515" stroke-width="1.3"/>
<rect x="733.20" y="695.00" width="19.00" height="7.40" rx="1.2" fill="none" stroke="#151515" stroke-width="0.9"/>
<circle cx="736.40" cy="698.90" r="1.95" fill="#1a1a1a" stroke="none" stroke-width="0"/>
<circle cx="742.50" cy="698.90" r="1.95" fill="#1a1a1a" stroke="none" stroke-width="0"/>
<circle cx="748.70" cy="698.90" r="1.95" fill="#1a1a1a" stroke="none" stroke-width="0"/>
<text x="740.00" y="710.70" font-size="3.0" fill="#333" text-anchor="middle" font-family='"Liberation Sans", sans-serif' >PWR1</text>
<text x="759.00" y="710.70" font-size="3.0" fill="#333" text-anchor="middle" font-family='"Liberation Sans", sans-serif' >PWR2</text>
<rect x="726.90" y="714.80" width="44.60" height="10.70" rx="0" fill="none" stroke="#151515" stroke-width="1.7"/>
<line x1="726.90" y1="715.70" x2="771.50" y2="715.70" stroke="#151515" stroke-width="1.8" />
<circle cx="730.10" cy="720.60" r="1.55" fill="none" stroke="#151515" stroke-width="1.3"/>
<circle cx="768.30" cy="720.60" r="1.55" fill="none" stroke="#151515" stroke-width="1.3"/>
<rect x="733.20" y="717.00" width="31.60" height="7.60" rx="1.2" fill="none" stroke="#151515" stroke-width="0.9"/>
<circle cx="736.40" cy="721.20" r="1.95" fill="#1a1a1a" stroke="none" stroke-width="0"/>
<circle cx="742.50" cy="721.20" r="1.95" fill="#1a1a1a" stroke="none" stroke-width="0"/>
<circle cx="749.00" cy="721.20" r="1.95" fill="#1a1a1a" stroke="none" stroke-width="0"/>
<circle cx="755.40" cy="721.20" r="1.95" fill="#1a1a1a" stroke="none" stroke-width="0"/>
<circle cx="761.70" cy="721.20" r="1.95" fill="#1a1a1a" stroke="none" stroke-width="0"/>
<text x="736.40" y="729.10" font-size="3.0" fill="#222" text-anchor="middle" font-family='"Liberation Sans", sans-serif' >V1-</text>
<text x="742.50" y="729.10" font-size="3.0" fill="#222" text-anchor="middle" font-family='"Liberation Sans", sans-serif' >V1+</text>
<text x="755.40" y="729.10" font-size="3.0" fill="#222" text-anchor="middle" font-family='"Liberation Sans", sans-serif' >V2-</text>
<text x="761.70" y="729.10" font-size="3.0" fill="#222" text-anchor="middle" font-family='"Liberation Sans", sans-serif' >V2+</text>
<text x="736.40" y="732.20" font-size="3.4" fill="#222" text-anchor="middle" font-family='"Liberation Sans", sans-serif' >−</text>
<text x="742.50" y="732.20" font-size="3.4" fill="#222" text-anchor="middle" font-family='"Liberation Sans", sans-serif' >+</text>
<text x="755.40" y="732.20" font-size="3.4" fill="#222" text-anchor="middle" font-family='"Liberation Sans", sans-serif' >−</text>
<text x="761.70" y="732.20" font-size="3.4" fill="#222" text-anchor="middle" font-family='"Liberation Sans", sans-serif' >+</text>
<circle cx="749.00" cy="728.40" r="1.4" fill="none" stroke="#222" stroke-width="0.9"/>
<line x1="749.00" y1="727.40" x2="749.00" y2="729.40" stroke="#222" stroke-width="0.7" />
<circle cx="778.20" cy="696.40" r="2.9" fill="none" stroke="#151515" stroke-width="2.7"/>
<circle cx="778.20" cy="705.20" r="2.3" fill="none" stroke="#151515" stroke-width="1.15"/>
<path d="M778.2 703.60 V705.40 M776.9 705.40 H779.5 M777.4 706.30 H779.0" fill="none" stroke="#151515" stroke-width="0.9" />
<text fill="#2f93a0"><tspan x="236.35" y="673.70" font-size="14.2" font-family='"Noto Sans CJK SC", sans-serif' font-weight="400" textLength="8.93" lengthAdjust="spacingAndGlyphs">8</tspan><tspan x="247.06" y="673.90" font-size="14.6" font-family='"Noto Sans CJK SC", sans-serif' font-weight="400" textLength="17.17" lengthAdjust="spacingAndGlyphs">光</tspan><tspan x="265.50" y="673.70" font-size="14.2" font-family='"Noto Sans CJK SC", sans-serif' font-weight="400" textLength="14.16" lengthAdjust="spacingAndGlyphs">16</tspan><tspan x="280.69" y="673.90" font-size="14.6" font-family='"Noto Sans CJK SC", sans-serif' font-weight="400" textLength="17.35" lengthAdjust="spacingAndGlyphs">电</tspan></text>
<path d="M240.2 771.60 H216 Q213.4 771.60 213.4 774.20 V824.00 Q213.4 826.60 216 826.60 H240.2" fill="none" stroke="#151515" stroke-width="1.05" />
<line x1="237.30" y1="771.60" x2="237.30" y2="826.60" stroke="#151515" stroke-width="1.0" />
<line x1="237.30" y1="774.00" x2="240.20" y2="774.00" stroke="#444" stroke-width="0.7" />
<line x1="237.30" y1="824.20" x2="240.20" y2="824.20" stroke="#444" stroke-width="0.7" />
<path d="M793.6 771.60 H817.8 Q820.4 771.60 820.4 774.20 V824.00 Q820.4 826.60 817.8 826.60 H793.6" fill="none" stroke="#151515" stroke-width="1.05" />
<line x1="796.50" y1="771.60" x2="796.50" y2="826.60" stroke="#151515" stroke-width="1.0" />
<line x1="793.60" y1="774.00" x2="796.50" y2="774.00" stroke="#444" stroke-width="0.7" />
<line x1="793.60" y1="824.20" x2="796.50" y2="824.20" stroke="#444" stroke-width="0.7" />
<rect x="217.35" y="774.35" width="14.30" height="9.30" rx="4.65" fill="none" stroke="#151515" stroke-width="1.2"/>
<rect x="217.35" y="814.45" width="14.30" height="9.30" rx="4.65" fill="none" stroke="#151515" stroke-width="1.2"/>
<rect x="802.25" y="774.35" width="14.30" height="9.30" rx="4.65" fill="none" stroke="#151515" stroke-width="1.2"/>
<rect x="802.25" y="814.45" width="14.30" height="9.30" rx="4.65" fill="none" stroke="#151515" stroke-width="1.2"/>
<rect x="241.10" y="772.70" width="551.60" height="53.50" rx="0" fill="none" stroke="#151515" stroke-width="2.0"/>
<line x1="242.00" y1="774.50" x2="791.80" y2="774.50" stroke="#777" stroke-width="0.5" />
<rect x="260.00" y="780.80" width="82.71" height="34.30" rx="0" fill="none" stroke="#151515" stroke-width="1.5"/>
<path d="M263.50 785.80 V794.60 H278.40 V785.80" fill="none" stroke="#151515" stroke-width="1.1" />
<path d="M263.50 785.80 H267.00 L269.30 781.50 M278.40 785.80 H275.40 L274.20 781.50" fill="none" stroke="#151515" stroke-width="1.0" />
<polygon points="260.90,782.80 262.10,781.90 267.40,781.90 268.50,782.40 267.00,785.90 260.90,785.90" fill="#151515"/>
<polygon points="274.50,782.40 275.50,781.90 280.00,781.90 281.20,782.80 281.20,785.90 275.40,785.90" fill="#151515"/>
<rect x="262.80" y="783.20" width="2.20" height="1.30" rx="0.5" fill="#fff" stroke="none" stroke-width="0"/>
<rect x="277.00" y="783.20" width="2.20" height="1.30" rx="0.5" fill="#fff" stroke="none" stroke-width="0"/>
<path d="M263.50 810.10 V800.90 H278.40 V810.10" fill="none" stroke="#151515" stroke-width="1.1" />
<path d="M263.50 810.10 H267.00 L269.30 814.40 M278.40 810.10 H275.40 L274.20 814.40" fill="none" stroke="#151515" stroke-width="1.0" />
<polygon points="260.90,813.10 262.10,814.00 267.40,814.00 268.50,813.50 267.00,810.00 260.90,810.00" fill="#151515"/>
<polygon points="274.50,813.50 275.50,814.00 280.00,814.00 281.20,813.10 281.20,810.00 275.40,810.00" fill="#151515"/>
<rect x="262.80" y="811.40" width="2.20" height="1.30" rx="0.5" fill="#fff" stroke="none" stroke-width="0"/>
<rect x="277.00" y="811.40" width="2.20" height="1.30" rx="0.5" fill="#fff" stroke="none" stroke-width="0"/>
<text x="270.95" y="778.00" font-size="3.0" fill="#444" text-anchor="middle" font-family='"Liberation Sans", sans-serif' >2</text>
<text x="270.95" y="820.00" font-size="3.0" fill="#444" text-anchor="middle" font-family='"Liberation Sans", sans-serif' >1</text>
<path d="M283.87 785.80 V794.60 H298.77 V785.80" fill="none" stroke="#151515" stroke-width="1.1" />
<path d="M283.87 785.80 H287.37 L289.67 781.50 M298.77 785.80 H295.77 L294.57 781.50" fill="none" stroke="#151515" stroke-width="1.0" />
<polygon points="281.27,782.80 282.47,781.90 287.77,781.90 288.87,782.40 287.37,785.90 281.27,785.90" fill="#151515"/>
<polygon points="294.87,782.40 295.87,781.90 300.37,781.90 301.57,782.80 301.57,785.90 295.77,785.90" fill="#151515"/>
<rect x="283.17" y="783.20" width="2.20" height="1.30" rx="0.5" fill="#fff" stroke="none" stroke-width="0"/>
<rect x="297.37" y="783.20" width="2.20" height="1.30" rx="0.5" fill="#fff" stroke="none" stroke-width="0"/>
<path d="M283.87 810.10 V800.90 H298.77 V810.10" fill="none" stroke="#151515" stroke-width="1.1" />
<path d="M283.87 810.10 H287.37 L289.67 814.40 M298.77 810.10 H295.77 L294.57 814.40" fill="none" stroke="#151515" stroke-width="1.0" />
<polygon points="281.27,813.10 282.47,814.00 287.77,814.00 288.87,813.50 287.37,810.00 281.27,810.00" fill="#151515"/>
<polygon points="294.87,813.50 295.87,814.00 300.37,814.00 301.57,813.10 301.57,810.00 295.77,810.00" fill="#151515"/>
<rect x="283.17" y="811.40" width="2.20" height="1.30" rx="0.5" fill="#fff" stroke="none" stroke-width="0"/>
<rect x="297.37" y="811.40" width="2.20" height="1.30" rx="0.5" fill="#fff" stroke="none" stroke-width="0"/>
<text x="291.32" y="778.00" font-size="3.0" fill="#444" text-anchor="middle" font-family='"Liberation Sans", sans-serif' >4</text>
<text x="291.32" y="820.00" font-size="3.0" fill="#444" text-anchor="middle" font-family='"Liberation Sans", sans-serif' >3</text>
<path d="M304.24 785.80 V794.60 H319.14 V785.80" fill="none" stroke="#151515" stroke-width="1.1" />
<path d="M304.24 785.80 H307.74 L310.04 781.50 M319.14 785.80 H316.14 L314.94 781.50" fill="none" stroke="#151515" stroke-width="1.0" />
<polygon points="301.64,782.80 302.84,781.90 308.14,781.90 309.24,782.40 307.74,785.90 301.64,785.90" fill="#151515"/>
<polygon points="315.24,782.40 316.24,781.90 320.74,781.90 321.94,782.80 321.94,785.90 316.14,785.90" fill="#151515"/>
<rect x="303.54" y="783.20" width="2.20" height="1.30" rx="0.5" fill="#fff" stroke="none" stroke-width="0"/>
<rect x="317.74" y="783.20" width="2.20" height="1.30" rx="0.5" fill="#fff" stroke="none" stroke-width="0"/>
<path d="M304.24 810.10 V800.90 H319.14 V810.10" fill="none" stroke="#151515" stroke-width="1.1" />
<path d="M304.24 810.10 H307.74 L310.04 814.40 M319.14 810.10 H316.14 L314.94 814.40" fill="none" stroke="#151515" stroke-width="1.0" />
<polygon points="301.64,813.10 302.84,814.00 308.14,814.00 309.24,813.50 307.74,810.00 301.64,810.00" fill="#151515"/>
<polygon points="315.24,813.50 316.24,814.00 320.74,814.00 321.94,813.10 321.94,810.00 316.14,810.00" fill="#151515"/>
<rect x="303.54" y="811.40" width="2.20" height="1.30" rx="0.5" fill="#fff" stroke="none" stroke-width="0"/>
<rect x="317.74" y="811.40" width="2.20" height="1.30" rx="0.5" fill="#fff" stroke="none" stroke-width="0"/>
<text x="311.69" y="778.00" font-size="3.0" fill="#444" text-anchor="middle" font-family='"Liberation Sans", sans-serif' >6</text>
<text x="311.69" y="820.00" font-size="3.0" fill="#444" text-anchor="middle" font-family='"Liberation Sans", sans-serif' >5</text>
<path d="M324.61 785.80 V794.60 H339.51 V785.80" fill="none" stroke="#151515" stroke-width="1.1" />
<path d="M324.61 785.80 H328.11 L330.41 781.50 M339.51 785.80 H336.51 L335.31 781.50" fill="none" stroke="#151515" stroke-width="1.0" />
<polygon points="322.01,782.80 323.21,781.90 328.51,781.90 329.61,782.40 328.11,785.90 322.01,785.90" fill="#151515"/>
<polygon points="335.61,782.40 336.61,781.90 341.11,781.90 342.31,782.80 342.31,785.90 336.51,785.90" fill="#151515"/>
<rect x="323.91" y="783.20" width="2.20" height="1.30" rx="0.5" fill="#fff" stroke="none" stroke-width="0"/>
<rect x="338.11" y="783.20" width="2.20" height="1.30" rx="0.5" fill="#fff" stroke="none" stroke-width="0"/>
<path d="M324.61 810.10 V800.90 H339.51 V810.10" fill="none" stroke="#151515" stroke-width="1.1" />
<path d="M324.61 810.10 H328.11 L330.41 814.40 M339.51 810.10 H336.51 L335.31 814.40" fill="none" stroke="#151515" stroke-width="1.0" />
<polygon points="322.01,813.10 323.21,814.00 328.51,814.00 329.61,813.50 328.11,810.00 322.01,810.00" fill="#151515"/>
<polygon points="335.61,813.50 336.61,814.00 341.11,814.00 342.31,813.10 342.31,810.00 336.51,810.00" fill="#151515"/>
<rect x="323.91" y="811.40" width="2.20" height="1.30" rx="0.5" fill="#fff" stroke="none" stroke-width="0"/>
<rect x="338.11" y="811.40" width="2.20" height="1.30" rx="0.5" fill="#fff" stroke="none" stroke-width="0"/>
<text x="332.06" y="778.00" font-size="3.0" fill="#444" text-anchor="middle" font-family='"Liberation Sans", sans-serif' >8</text>
<text x="332.06" y="820.00" font-size="3.0" fill="#444" text-anchor="middle" font-family='"Liberation Sans", sans-serif' >7</text>
<rect x="356.80" y="780.80" width="41.97" height="34.30" rx="0" fill="none" stroke="#151515" stroke-width="1.5"/>
<path d="M360.30 785.80 V794.60 H375.20 V785.80" fill="none" stroke="#151515" stroke-width="1.1" />
<path d="M360.30 785.80 H363.80 L366.10 781.50 M375.20 785.80 H372.20 L371.00 781.50" fill="none" stroke="#151515" stroke-width="1.0" />
<polygon points="357.70,782.80 358.90,781.90 364.20,781.90 365.30,782.40 363.80,785.90 357.70,785.90" fill="#151515"/>
<polygon points="371.30,782.40 372.30,781.90 376.80,781.90 378.00,782.80 378.00,785.90 372.20,785.90" fill="#151515"/>
<rect x="359.60" y="783.20" width="2.20" height="1.30" rx="0.5" fill="#fff" stroke="none" stroke-width="0"/>
<rect x="373.80" y="783.20" width="2.20" height="1.30" rx="0.5" fill="#fff" stroke="none" stroke-width="0"/>
<path d="M360.30 810.10 V800.90 H375.20 V810.10" fill="none" stroke="#151515" stroke-width="1.1" />
<path d="M360.30 810.10 H363.80 L366.10 814.40 M375.20 810.10 H372.20 L371.00 814.40" fill="none" stroke="#151515" stroke-width="1.0" />
<polygon points="357.70,813.10 358.90,814.00 364.20,814.00 365.30,813.50 363.80,810.00 357.70,810.00" fill="#151515"/>
<polygon points="371.30,813.50 372.30,814.00 376.80,814.00 378.00,813.10 378.00,810.00 372.20,810.00" fill="#151515"/>
<rect x="359.60" y="811.40" width="2.20" height="1.30" rx="0.5" fill="#fff" stroke="none" stroke-width="0"/>
<rect x="373.80" y="811.40" width="2.20" height="1.30" rx="0.5" fill="#fff" stroke="none" stroke-width="0"/>
<text x="367.75" y="778.00" font-size="3.0" fill="#444" text-anchor="middle" font-family='"Liberation Sans", sans-serif' >10</text>
<text x="367.75" y="820.00" font-size="3.0" fill="#444" text-anchor="middle" font-family='"Liberation Sans", sans-serif' >9</text>
<path d="M380.67 785.80 V794.60 H395.57 V785.80" fill="none" stroke="#151515" stroke-width="1.1" />
<path d="M380.67 785.80 H384.17 L386.47 781.50 M395.57 785.80 H392.57 L391.37 781.50" fill="none" stroke="#151515" stroke-width="1.0" />
<polygon points="378.07,782.80 379.27,781.90 384.57,781.90 385.67,782.40 384.17,785.90 378.07,785.90" fill="#151515"/>
<polygon points="391.67,782.40 392.67,781.90 397.17,781.90 398.37,782.80 398.37,785.90 392.57,785.90" fill="#151515"/>
<rect x="379.97" y="783.20" width="2.20" height="1.30" rx="0.5" fill="#fff" stroke="none" stroke-width="0"/>
<rect x="394.17" y="783.20" width="2.20" height="1.30" rx="0.5" fill="#fff" stroke="none" stroke-width="0"/>
<path d="M380.67 810.10 V800.90 H395.57 V810.10" fill="none" stroke="#151515" stroke-width="1.1" />
<path d="M380.67 810.10 H384.17 L386.47 814.40 M395.57 810.10 H392.57 L391.37 814.40" fill="none" stroke="#151515" stroke-width="1.0" />
<polygon points="378.07,813.10 379.27,814.00 384.57,814.00 385.67,813.50 384.17,810.00 378.07,810.00" fill="#151515"/>
<polygon points="391.67,813.50 392.67,814.00 397.17,814.00 398.37,813.10 398.37,810.00 392.57,810.00" fill="#151515"/>
<rect x="379.97" y="811.40" width="2.20" height="1.30" rx="0.5" fill="#fff" stroke="none" stroke-width="0"/>
<rect x="394.17" y="811.40" width="2.20" height="1.30" rx="0.5" fill="#fff" stroke="none" stroke-width="0"/>
<text x="388.12" y="778.00" font-size="3.0" fill="#444" text-anchor="middle" font-family='"Liberation Sans", sans-serif' >12</text>
<text x="388.12" y="820.00" font-size="3.0" fill="#444" text-anchor="middle" font-family='"Liberation Sans", sans-serif' >11</text>
<rect x="413.40" y="780.30" width="31.85" height="12.30" rx="0" fill="none" stroke="#151515" stroke-width="1.9"/>
<path d="M414.20 781.10 L421.90 784.05 M414.20 791.80 L421.90 788.85 M444.45 781.10 L436.90 784.05 M444.45 791.80 L436.90 788.85" fill="none" stroke="#151515" stroke-width="1.45" />
<rect x="421.90" y="784.05" width="15.00" height="4.80" rx="0" fill="none" stroke="#151515" stroke-width="1.7"/>
<rect x="413.40" y="802.40" width="31.85" height="12.30" rx="0" fill="none" stroke="#151515" stroke-width="1.9"/>
<path d="M414.20 803.20 L421.90 806.15 M414.20 813.90 L421.90 810.95 M444.45 803.20 L436.90 806.15 M444.45 813.90 L436.90 810.95" fill="none" stroke="#151515" stroke-width="1.45" />
<rect x="421.90" y="806.15" width="15.00" height="4.80" rx="0" fill="none" stroke="#151515" stroke-width="1.7"/>
<circle cx="429.22" cy="797.00" r="2.15" fill="#222" stroke="#151515" stroke-width="1.2"/>
<circle cx="429.22" cy="818.80" r="2.15" fill="#222" stroke="#151515" stroke-width="1.2"/>
<text x="424.32" y="798.10" font-size="3.0" fill="#333" text-anchor="end" font-family='"Liberation Sans", sans-serif' >TX</text>
<text x="434.32" y="798.10" font-size="3.0" fill="#333" text-anchor="start" font-family='"Liberation Sans", sans-serif' >RX</text>
<text x="432.42" y="819.90" font-size="3.0" fill="#333" text-anchor="start" font-family='"Liberation Sans", sans-serif' >13</text>
<text x="434.22" y="777.40" font-size="3.0" fill="#444" text-anchor="middle" font-family='"Liberation Sans", sans-serif' >14</text>
<rect x="445.25" y="780.30" width="31.85" height="12.30" rx="0" fill="none" stroke="#151515" stroke-width="1.9"/>
<path d="M446.05 781.10 L453.75 784.05 M446.05 791.80 L453.75 788.85 M476.30 781.10 L468.75 784.05 M476.30 791.80 L468.75 788.85" fill="none" stroke="#151515" stroke-width="1.45" />
<rect x="453.75" y="784.05" width="15.00" height="4.80" rx="0" fill="none" stroke="#151515" stroke-width="1.7"/>
<rect x="445.25" y="802.40" width="31.85" height="12.30" rx="0" fill="none" stroke="#151515" stroke-width="1.9"/>
<path d="M446.05 803.20 L453.75 806.15 M446.05 813.90 L453.75 810.95 M476.30 803.20 L468.75 806.15 M476.30 813.90 L468.75 810.95" fill="none" stroke="#151515" stroke-width="1.45" />
<rect x="453.75" y="806.15" width="15.00" height="4.80" rx="0" fill="none" stroke="#151515" stroke-width="1.7"/>
<circle cx="461.07" cy="797.00" r="2.15" fill="#222" stroke="#151515" stroke-width="1.2"/>
<circle cx="461.07" cy="818.80" r="2.15" fill="#222" stroke="#151515" stroke-width="1.2"/>
<text x="456.18" y="798.10" font-size="3.0" fill="#333" text-anchor="end" font-family='"Liberation Sans", sans-serif' >TX</text>
<text x="466.18" y="798.10" font-size="3.0" fill="#333" text-anchor="start" font-family='"Liberation Sans", sans-serif' >RX</text>
<text x="464.27" y="819.90" font-size="3.0" fill="#333" text-anchor="start" font-family='"Liberation Sans", sans-serif' >15</text>
<text x="466.07" y="777.40" font-size="3.0" fill="#444" text-anchor="middle" font-family='"Liberation Sans", sans-serif' >16</text>
<rect x="483.00" y="780.30" width="32.18" height="12.30" rx="0" fill="none" stroke="#151515" stroke-width="1.9"/>
<path d="M483.80 781.10 L491.50 784.05 M483.80 791.80 L491.50 788.85 M514.38 781.10 L506.50 784.05 M514.38 791.80 L506.50 788.85" fill="none" stroke="#151515" stroke-width="1.45" />
<rect x="491.50" y="784.05" width="15.00" height="4.80" rx="0" fill="none" stroke="#151515" stroke-width="1.7"/>
<rect x="483.00" y="802.40" width="32.18" height="12.30" rx="0" fill="none" stroke="#151515" stroke-width="1.9"/>
<path d="M483.80 803.20 L491.50 806.15 M483.80 813.90 L491.50 810.95 M514.38 803.20 L506.50 806.15 M514.38 813.90 L506.50 810.95" fill="none" stroke="#151515" stroke-width="1.45" />
<rect x="491.50" y="806.15" width="15.00" height="4.80" rx="0" fill="none" stroke="#151515" stroke-width="1.7"/>
<circle cx="498.99" cy="797.00" r="2.15" fill="#222" stroke="#151515" stroke-width="1.2"/>
<circle cx="498.99" cy="818.80" r="2.15" fill="#222" stroke="#151515" stroke-width="1.2"/>
<text x="494.09" y="798.10" font-size="3.0" fill="#333" text-anchor="end" font-family='"Liberation Sans", sans-serif' >TX</text>
<text x="504.09" y="798.10" font-size="3.0" fill="#333" text-anchor="start" font-family='"Liberation Sans", sans-serif' >RX</text>
<text x="502.19" y="819.90" font-size="3.0" fill="#333" text-anchor="start" font-family='"Liberation Sans", sans-serif' >17</text>
<text x="503.99" y="777.40" font-size="3.0" fill="#444" text-anchor="middle" font-family='"Liberation Sans", sans-serif' >18</text>
<rect x="515.18" y="780.30" width="32.18" height="12.30" rx="0" fill="none" stroke="#151515" stroke-width="1.9"/>
<path d="M515.98 781.10 L523.68 784.05 M515.98 791.80 L523.68 788.85 M546.56 781.10 L538.68 784.05 M546.56 791.80 L538.68 788.85" fill="none" stroke="#151515" stroke-width="1.45" />
<rect x="523.68" y="784.05" width="15.00" height="4.80" rx="0" fill="none" stroke="#151515" stroke-width="1.7"/>
<rect x="515.18" y="802.40" width="32.18" height="12.30" rx="0" fill="none" stroke="#151515" stroke-width="1.9"/>
<path d="M515.98 803.20 L523.68 806.15 M515.98 813.90 L523.68 810.95 M546.56 803.20 L538.68 806.15 M546.56 813.90 L538.68 810.95" fill="none" stroke="#151515" stroke-width="1.45" />
<rect x="523.68" y="806.15" width="15.00" height="4.80" rx="0" fill="none" stroke="#151515" stroke-width="1.7"/>
<circle cx="531.17" cy="797.00" r="2.15" fill="#222" stroke="#151515" stroke-width="1.2"/>
<circle cx="531.17" cy="818.80" r="2.15" fill="#222" stroke="#151515" stroke-width="1.2"/>
<text x="526.27" y="798.10" font-size="3.0" fill="#333" text-anchor="end" font-family='"Liberation Sans", sans-serif' >TX</text>
<text x="536.27" y="798.10" font-size="3.0" fill="#333" text-anchor="start" font-family='"Liberation Sans", sans-serif' >RX</text>
<text x="534.37" y="819.90" font-size="3.0" fill="#333" text-anchor="start" font-family='"Liberation Sans", sans-serif' >19</text>
<text x="536.17" y="777.40" font-size="3.0" fill="#444" text-anchor="middle" font-family='"Liberation Sans", sans-serif' >20</text>
<rect x="547.36" y="780.30" width="32.18" height="12.30" rx="0" fill="none" stroke="#151515" stroke-width="1.9"/>
<path d="M548.16 781.10 L555.86 784.05 M548.16 791.80 L555.86 788.85 M578.74 781.10 L570.86 784.05 M578.74 791.80 L570.86 788.85" fill="none" stroke="#151515" stroke-width="1.45" />
<rect x="555.86" y="784.05" width="15.00" height="4.80" rx="0" fill="none" stroke="#151515" stroke-width="1.7"/>
<rect x="547.36" y="802.40" width="32.18" height="12.30" rx="0" fill="none" stroke="#151515" stroke-width="1.9"/>
<path d="M548.16 803.20 L555.86 806.15 M548.16 813.90 L555.86 810.95 M578.74 803.20 L570.86 806.15 M578.74 813.90 L570.86 810.95" fill="none" stroke="#151515" stroke-width="1.45" />
<rect x="555.86" y="806.15" width="15.00" height="4.80" rx="0" fill="none" stroke="#151515" stroke-width="1.7"/>
<circle cx="563.35" cy="797.00" r="2.15" fill="#222" stroke="#151515" stroke-width="1.2"/>
<circle cx="563.35" cy="818.80" r="2.15" fill="#222" stroke="#151515" stroke-width="1.2"/>
<text x="558.45" y="798.10" font-size="3.0" fill="#333" text-anchor="end" font-family='"Liberation Sans", sans-serif' >TX</text>
<text x="568.45" y="798.10" font-size="3.0" fill="#333" text-anchor="start" font-family='"Liberation Sans", sans-serif' >RX</text>
<text x="566.55" y="819.90" font-size="3.0" fill="#333" text-anchor="start" font-family='"Liberation Sans", sans-serif' >21</text>
<text x="568.35" y="777.40" font-size="3.0" fill="#444" text-anchor="middle" font-family='"Liberation Sans", sans-serif' >22</text>
<rect x="579.54" y="780.30" width="32.18" height="12.30" rx="0" fill="none" stroke="#151515" stroke-width="1.9"/>
<path d="M580.34 781.10 L588.04 784.05 M580.34 791.80 L588.04 788.85 M610.92 781.10 L603.04 784.05 M610.92 791.80 L603.04 788.85" fill="none" stroke="#151515" stroke-width="1.45" />
<rect x="588.04" y="784.05" width="15.00" height="4.80" rx="0" fill="none" stroke="#151515" stroke-width="1.7"/>
<rect x="579.54" y="802.40" width="32.18" height="12.30" rx="0" fill="none" stroke="#151515" stroke-width="1.9"/>
<path d="M580.34 803.20 L588.04 806.15 M580.34 813.90 L588.04 810.95 M610.92 803.20 L603.04 806.15 M610.92 813.90 L603.04 810.95" fill="none" stroke="#151515" stroke-width="1.45" />
<rect x="588.04" y="806.15" width="15.00" height="4.80" rx="0" fill="none" stroke="#151515" stroke-width="1.7"/>
<circle cx="595.53" cy="797.00" r="2.15" fill="#222" stroke="#151515" stroke-width="1.2"/>
<circle cx="595.53" cy="818.80" r="2.15" fill="#222" stroke="#151515" stroke-width="1.2"/>
<text x="590.63" y="798.10" font-size="3.0" fill="#333" text-anchor="end" font-family='"Liberation Sans", sans-serif' >TX</text>
<text x="600.63" y="798.10" font-size="3.0" fill="#333" text-anchor="start" font-family='"Liberation Sans", sans-serif' >RX</text>
<text x="598.73" y="819.90" font-size="3.0" fill="#333" text-anchor="start" font-family='"Liberation Sans", sans-serif' >23</text>
<text x="600.53" y="777.40" font-size="3.0" fill="#444" text-anchor="middle" font-family='"Liberation Sans", sans-serif' >24</text>
<line x1="736.30" y1="775.40" x2="736.30" y2="779.70" stroke="#151515" stroke-width="0.9" />
<path d="M739.4 777.30 V775.70 H749.4 V779.70 M742.6 775.70 V779.70 M746.3 775.70 V779.70" fill="none" stroke="#151515" stroke-width="0.9" />
<text x="754.00" y="779.40" font-size="3.0" fill="#333" text-anchor="start" font-family='"Liberation Sans", sans-serif' >ALARM</text>
<rect x="726.90" y="783.20" width="32.00" height="10.70" rx="0" fill="none" stroke="#151515" stroke-width="1.7"/>
<line x1="726.90" y1="784.10" x2="758.90" y2="784.10" stroke="#151515" stroke-width="1.8" />
<circle cx="730.10" cy="789.00" r="1.55" fill="none" stroke="#151515" stroke-width="1.3"/>
<circle cx="755.40" cy="789.00" r="1.55" fill="none" stroke="#151515" stroke-width="1.3"/>
<rect x="733.20" y="785.70" width="19.00" height="7.40" rx="1.2" fill="none" stroke="#151515" stroke-width="0.9"/>
<circle cx="736.40" cy="789.60" r="1.95" fill="#1a1a1a" stroke="none" stroke-width="0"/>
<circle cx="742.50" cy="789.60" r="1.95" fill="#1a1a1a" stroke="none" stroke-width="0"/>
<circle cx="748.70" cy="789.60" r="1.95" fill="#1a1a1a" stroke="none" stroke-width="0"/>
<text x="740.00" y="801.40" font-size="3.0" fill="#333" text-anchor="middle" font-family='"Liberation Sans", sans-serif' >PWR1</text>
<text x="759.00" y="801.40" font-size="3.0" fill="#333" text-anchor="middle" font-family='"Liberation Sans", sans-serif' >PWR2</text>
<rect x="726.90" y="805.50" width="44.60" height="10.70" rx="0" fill="none" stroke="#151515" stroke-width="1.7"/>
<line x1="726.90" y1="806.40" x2="771.50" y2="806.40" stroke="#151515" stroke-width="1.8" />
<circle cx="730.10" cy="811.30" r="1.55" fill="none" stroke="#151515" stroke-width="1.3"/>
<circle cx="768.30" cy="811.30" r="1.55" fill="none" stroke="#151515" stroke-width="1.3"/>
<rect x="733.20" y="807.70" width="31.60" height="7.60" rx="1.2" fill="none" stroke="#151515" stroke-width="0.9"/>
<circle cx="736.40" cy="811.90" r="1.95" fill="#1a1a1a" stroke="none" stroke-width="0"/>
<circle cx="742.50" cy="811.90" r="1.95" fill="#1a1a1a" stroke="none" stroke-width="0"/>
<circle cx="749.00" cy="811.90" r="1.95" fill="#1a1a1a" stroke="none" stroke-width="0"/>
<circle cx="755.40" cy="811.90" r="1.95" fill="#1a1a1a" stroke="none" stroke-width="0"/>
<circle cx="761.70" cy="811.90" r="1.95" fill="#1a1a1a" stroke="none" stroke-width="0"/>
<text x="736.40" y="819.80" font-size="3.0" fill="#222" text-anchor="middle" font-family='"Liberation Sans", sans-serif' >V1-</text>
<text x="742.50" y="819.80" font-size="3.0" fill="#222" text-anchor="middle" font-family='"Liberation Sans", sans-serif' >V1+</text>
<text x="755.40" y="819.80" font-size="3.0" fill="#222" text-anchor="middle" font-family='"Liberation Sans", sans-serif' >V2-</text>
<text x="761.70" y="819.80" font-size="3.0" fill="#222" text-anchor="middle" font-family='"Liberation Sans", sans-serif' >V2+</text>
<text x="736.40" y="822.90" font-size="3.4" fill="#222" text-anchor="middle" font-family='"Liberation Sans", sans-serif' >−</text>
<text x="742.50" y="822.90" font-size="3.4" fill="#222" text-anchor="middle" font-family='"Liberation Sans", sans-serif' >+</text>
<text x="755.40" y="822.90" font-size="3.4" fill="#222" text-anchor="middle" font-family='"Liberation Sans", sans-serif' >−</text>
<text x="761.70" y="822.90" font-size="3.4" fill="#222" text-anchor="middle" font-family='"Liberation Sans", sans-serif' >+</text>
<circle cx="749.00" cy="819.10" r="1.4" fill="none" stroke="#222" stroke-width="0.9"/>
<line x1="749.00" y1="818.10" x2="749.00" y2="820.10" stroke="#222" stroke-width="0.7" />
<circle cx="778.20" cy="787.10" r="2.9" fill="none" stroke="#151515" stroke-width="2.7"/>
<circle cx="778.20" cy="795.90" r="2.3" fill="none" stroke="#151515" stroke-width="1.15"/>
<path d="M778.2 794.30 V796.10 M776.9 796.10 H779.5 M777.4 797.00 H779.0" fill="none" stroke="#151515" stroke-width="0.9" />
<text fill="#2f93a0"><tspan x="237.56" y="763.70" font-size="14.2" font-family='"Noto Sans CJK SC", sans-serif' font-weight="400" textLength="13.50" lengthAdjust="spacingAndGlyphs">12</tspan><tspan x="254.38" y="763.90" font-size="14.6" font-family='"Noto Sans CJK SC", sans-serif' font-weight="400" textLength="16.85" lengthAdjust="spacingAndGlyphs">光</tspan><tspan x="272.99" y="763.70" font-size="14.2" font-family='"Noto Sans CJK SC", sans-serif' font-weight="400" textLength="13.05" lengthAdjust="spacingAndGlyphs">12</tspan><tspan x="288.26" y="763.90" font-size="14.6" font-family='"Noto Sans CJK SC", sans-serif' font-weight="400" textLength="16.87" lengthAdjust="spacingAndGlyphs">电</tspan></text>
<path d="M240.2 863.70 H216 Q213.4 863.70 213.4 866.30 V916.10 Q213.4 918.70 216 918.70 H240.2" fill="none" stroke="#151515" stroke-width="1.05" />
<line x1="237.30" y1="863.70" x2="237.30" y2="918.70" stroke="#151515" stroke-width="1.0" />
<line x1="237.30" y1="866.10" x2="240.20" y2="866.10" stroke="#444" stroke-width="0.7" />
<line x1="237.30" y1="916.30" x2="240.20" y2="916.30" stroke="#444" stroke-width="0.7" />
<path d="M793.6 863.70 H817.8 Q820.4 863.70 820.4 866.30 V916.10 Q820.4 918.70 817.8 918.70 H793.6" fill="none" stroke="#151515" stroke-width="1.05" />
<line x1="796.50" y1="863.70" x2="796.50" y2="918.70" stroke="#151515" stroke-width="1.0" />
<line x1="793.60" y1="866.10" x2="796.50" y2="866.10" stroke="#444" stroke-width="0.7" />
<line x1="793.60" y1="916.30" x2="796.50" y2="916.30" stroke="#444" stroke-width="0.7" />
<rect x="217.35" y="866.45" width="14.30" height="9.30" rx="4.65" fill="none" stroke="#151515" stroke-width="1.2"/>
<rect x="217.35" y="906.55" width="14.30" height="9.30" rx="4.65" fill="none" stroke="#151515" stroke-width="1.2"/>
<rect x="802.25" y="866.45" width="14.30" height="9.30" rx="4.65" fill="none" stroke="#151515" stroke-width="1.2"/>
<rect x="802.25" y="906.55" width="14.30" height="9.30" rx="4.65" fill="none" stroke="#151515" stroke-width="1.2"/>
<rect x="241.10" y="864.80" width="551.60" height="53.50" rx="0" fill="none" stroke="#151515" stroke-width="2.0"/>
<line x1="242.00" y1="866.60" x2="791.80" y2="866.60" stroke="#777" stroke-width="0.5" />
<rect x="260.00" y="872.90" width="82.71" height="34.30" rx="0" fill="none" stroke="#151515" stroke-width="1.5"/>
<path d="M263.50 877.90 V886.70 H278.40 V877.90" fill="none" stroke="#151515" stroke-width="1.1" />
<path d="M263.50 877.90 H267.00 L269.30 873.60 M278.40 877.90 H275.40 L274.20 873.60" fill="none" stroke="#151515" stroke-width="1.0" />
<polygon points="260.90,874.90 262.10,874.00 267.40,874.00 268.50,874.50 267.00,878.00 260.90,878.00" fill="#151515"/>
<polygon points="274.50,874.50 275.50,874.00 280.00,874.00 281.20,874.90 281.20,878.00 275.40,878.00" fill="#151515"/>
<rect x="262.80" y="875.30" width="2.20" height="1.30" rx="0.5" fill="#fff" stroke="none" stroke-width="0"/>
<rect x="277.00" y="875.30" width="2.20" height="1.30" rx="0.5" fill="#fff" stroke="none" stroke-width="0"/>
<path d="M263.50 902.20 V893.00 H278.40 V902.20" fill="none" stroke="#151515" stroke-width="1.1" />
<path d="M263.50 902.20 H267.00 L269.30 906.50 M278.40 902.20 H275.40 L274.20 906.50" fill="none" stroke="#151515" stroke-width="1.0" />
<polygon points="260.90,905.20 262.10,906.10 267.40,906.10 268.50,905.60 267.00,902.10 260.90,902.10" fill="#151515"/>
<polygon points="274.50,905.60 275.50,906.10 280.00,906.10 281.20,905.20 281.20,902.10 275.40,902.10" fill="#151515"/>
<rect x="262.80" y="903.50" width="2.20" height="1.30" rx="0.5" fill="#fff" stroke="none" stroke-width="0"/>
<rect x="277.00" y="903.50" width="2.20" height="1.30" rx="0.5" fill="#fff" stroke="none" stroke-width="0"/>
<text x="270.95" y="870.10" font-size="3.0" fill="#444" text-anchor="middle" font-family='"Liberation Sans", sans-serif' >2</text>
<text x="270.95" y="912.10" font-size="3.0" fill="#444" text-anchor="middle" font-family='"Liberation Sans", sans-serif' >1</text>
<path d="M283.87 877.90 V886.70 H298.77 V877.90" fill="none" stroke="#151515" stroke-width="1.1" />
<path d="M283.87 877.90 H287.37 L289.67 873.60 M298.77 877.90 H295.77 L294.57 873.60" fill="none" stroke="#151515" stroke-width="1.0" />
<polygon points="281.27,874.90 282.47,874.00 287.77,874.00 288.87,874.50 287.37,878.00 281.27,878.00" fill="#151515"/>
<polygon points="294.87,874.50 295.87,874.00 300.37,874.00 301.57,874.90 301.57,878.00 295.77,878.00" fill="#151515"/>
<rect x="283.17" y="875.30" width="2.20" height="1.30" rx="0.5" fill="#fff" stroke="none" stroke-width="0"/>
<rect x="297.37" y="875.30" width="2.20" height="1.30" rx="0.5" fill="#fff" stroke="none" stroke-width="0"/>
<path d="M283.87 902.20 V893.00 H298.77 V902.20" fill="none" stroke="#151515" stroke-width="1.1" />
<path d="M283.87 902.20 H287.37 L289.67 906.50 M298.77 902.20 H295.77 L294.57 906.50" fill="none" stroke="#151515" stroke-width="1.0" />
<polygon points="281.27,905.20 282.47,906.10 287.77,906.10 288.87,905.60 287.37,902.10 281.27,902.10" fill="#151515"/>
<polygon points="294.87,905.60 295.87,906.10 300.37,906.10 301.57,905.20 301.57,902.10 295.77,902.10" fill="#151515"/>
<rect x="283.17" y="903.50" width="2.20" height="1.30" rx="0.5" fill="#fff" stroke="none" stroke-width="0"/>
<rect x="297.37" y="903.50" width="2.20" height="1.30" rx="0.5" fill="#fff" stroke="none" stroke-width="0"/>
<text x="291.32" y="870.10" font-size="3.0" fill="#444" text-anchor="middle" font-family='"Liberation Sans", sans-serif' >4</text>
<text x="291.32" y="912.10" font-size="3.0" fill="#444" text-anchor="middle" font-family='"Liberation Sans", sans-serif' >3</text>
<path d="M304.24 877.90 V886.70 H319.14 V877.90" fill="none" stroke="#151515" stroke-width="1.1" />
<path d="M304.24 877.90 H307.74 L310.04 873.60 M319.14 877.90 H316.14 L314.94 873.60" fill="none" stroke="#151515" stroke-width="1.0" />
<polygon points="301.64,874.90 302.84,874.00 308.14,874.00 309.24,874.50 307.74,878.00 301.64,878.00" fill="#151515"/>
<polygon points="315.24,874.50 316.24,874.00 320.74,874.00 321.94,874.90 321.94,878.00 316.14,878.00" fill="#151515"/>
<rect x="303.54" y="875.30" width="2.20" height="1.30" rx="0.5" fill="#fff" stroke="none" stroke-width="0"/>
<rect x="317.74" y="875.30" width="2.20" height="1.30" rx="0.5" fill="#fff" stroke="none" stroke-width="0"/>
<path d="M304.24 902.20 V893.00 H319.14 V902.20" fill="none" stroke="#151515" stroke-width="1.1" />
<path d="M304.24 902.20 H307.74 L310.04 906.50 M319.14 902.20 H316.14 L314.94 906.50" fill="none" stroke="#151515" stroke-width="1.0" />
<polygon points="301.64,905.20 302.84,906.10 308.14,906.10 309.24,905.60 307.74,902.10 301.64,902.10" fill="#151515"/>
<polygon points="315.24,905.60 316.24,906.10 320.74,906.10 321.94,905.20 321.94,902.10 316.14,902.10" fill="#151515"/>
<rect x="303.54" y="903.50" width="2.20" height="1.30" rx="0.5" fill="#fff" stroke="none" stroke-width="0"/>
<rect x="317.74" y="903.50" width="2.20" height="1.30" rx="0.5" fill="#fff" stroke="none" stroke-width="0"/>
<text x="311.69" y="870.10" font-size="3.0" fill="#444" text-anchor="middle" font-family='"Liberation Sans", sans-serif' >6</text>
<text x="311.69" y="912.10" font-size="3.0" fill="#444" text-anchor="middle" font-family='"Liberation Sans", sans-serif' >5</text>
<path d="M324.61 877.90 V886.70 H339.51 V877.90" fill="none" stroke="#151515" stroke-width="1.1" />
<path d="M324.61 877.90 H328.11 L330.41 873.60 M339.51 877.90 H336.51 L335.31 873.60" fill="none" stroke="#151515" stroke-width="1.0" />
<polygon points="322.01,874.90 323.21,874.00 328.51,874.00 329.61,874.50 328.11,878.00 322.01,878.00" fill="#151515"/>
<polygon points="335.61,874.50 336.61,874.00 341.11,874.00 342.31,874.90 342.31,878.00 336.51,878.00" fill="#151515"/>
<rect x="323.91" y="875.30" width="2.20" height="1.30" rx="0.5" fill="#fff" stroke="none" stroke-width="0"/>
<rect x="338.11" y="875.30" width="2.20" height="1.30" rx="0.5" fill="#fff" stroke="none" stroke-width="0"/>
<path d="M324.61 902.20 V893.00 H339.51 V902.20" fill="none" stroke="#151515" stroke-width="1.1" />
<path d="M324.61 902.20 H328.11 L330.41 906.50 M339.51 902.20 H336.51 L335.31 906.50" fill="none" stroke="#151515" stroke-width="1.0" />
<polygon points="322.01,905.20 323.21,906.10 328.51,906.10 329.61,905.60 328.11,902.10 322.01,902.10" fill="#151515"/>
<polygon points="335.61,905.60 336.61,906.10 341.11,906.10 342.31,905.20 342.31,902.10 336.51,902.10" fill="#151515"/>
<rect x="323.91" y="903.50" width="2.20" height="1.30" rx="0.5" fill="#fff" stroke="none" stroke-width="0"/>
<rect x="338.11" y="903.50" width="2.20" height="1.30" rx="0.5" fill="#fff" stroke="none" stroke-width="0"/>
<text x="332.06" y="870.10" font-size="3.0" fill="#444" text-anchor="middle" font-family='"Liberation Sans", sans-serif' >8</text>
<text x="332.06" y="912.10" font-size="3.0" fill="#444" text-anchor="middle" font-family='"Liberation Sans", sans-serif' >7</text>
<rect x="349.00" y="872.40" width="31.90" height="12.30" rx="0" fill="none" stroke="#151515" stroke-width="1.9"/>
<path d="M349.80 873.20 L357.50 876.15 M349.80 883.90 L357.50 880.95 M380.10 873.20 L372.50 876.15 M380.10 883.90 L372.50 880.95" fill="none" stroke="#151515" stroke-width="1.45" />
<rect x="357.50" y="876.15" width="15.00" height="4.80" rx="0" fill="none" stroke="#151515" stroke-width="1.7"/>
<rect x="349.00" y="894.50" width="31.90" height="12.30" rx="0" fill="none" stroke="#151515" stroke-width="1.9"/>
<path d="M349.80 895.30 L357.50 898.25 M349.80 906.00 L357.50 903.05 M380.10 895.30 L372.50 898.25 M380.10 906.00 L372.50 903.05" fill="none" stroke="#151515" stroke-width="1.45" />
<rect x="357.50" y="898.25" width="15.00" height="4.80" rx="0" fill="none" stroke="#151515" stroke-width="1.7"/>
<circle cx="364.85" cy="889.10" r="2.15" fill="#222" stroke="#151515" stroke-width="1.2"/>
<circle cx="364.85" cy="910.90" r="2.15" fill="#222" stroke="#151515" stroke-width="1.2"/>
<text x="359.95" y="890.20" font-size="3.0" fill="#333" text-anchor="end" font-family='"Liberation Sans", sans-serif' >TX</text>
<text x="369.95" y="890.20" font-size="3.0" fill="#333" text-anchor="start" font-family='"Liberation Sans", sans-serif' >RX</text>
<text x="368.05" y="912.00" font-size="3.0" fill="#333" text-anchor="start" font-family='"Liberation Sans", sans-serif' >9</text>
<text x="369.85" y="869.50" font-size="3.0" fill="#444" text-anchor="middle" font-family='"Liberation Sans", sans-serif' >10</text>
<rect x="380.90" y="872.40" width="31.90" height="12.30" rx="0" fill="none" stroke="#151515" stroke-width="1.9"/>
<path d="M381.70 873.20 L389.40 876.15 M381.70 883.90 L389.40 880.95 M412.00 873.20 L404.40 876.15 M412.00 883.90 L404.40 880.95" fill="none" stroke="#151515" stroke-width="1.45" />
<rect x="389.40" y="876.15" width="15.00" height="4.80" rx="0" fill="none" stroke="#151515" stroke-width="1.7"/>
<rect x="380.90" y="894.50" width="31.90" height="12.30" rx="0" fill="none" stroke="#151515" stroke-width="1.9"/>
<path d="M381.70 895.30 L389.40 898.25 M381.70 906.00 L389.40 903.05 M412.00 895.30 L404.40 898.25 M412.00 906.00 L404.40 903.05" fill="none" stroke="#151515" stroke-width="1.45" />
<rect x="389.40" y="898.25" width="15.00" height="4.80" rx="0" fill="none" stroke="#151515" stroke-width="1.7"/>
<circle cx="396.75" cy="889.10" r="2.15" fill="#222" stroke="#151515" stroke-width="1.2"/>
<circle cx="396.75" cy="910.90" r="2.15" fill="#222" stroke="#151515" stroke-width="1.2"/>
<text x="391.85" y="890.20" font-size="3.0" fill="#333" text-anchor="end" font-family='"Liberation Sans", sans-serif' >TX</text>
<text x="401.85" y="890.20" font-size="3.0" fill="#333" text-anchor="start" font-family='"Liberation Sans", sans-serif' >RX</text>
<text x="399.95" y="912.00" font-size="3.0" fill="#333" text-anchor="start" font-family='"Liberation Sans", sans-serif' >11</text>
<text x="401.75" y="869.50" font-size="3.0" fill="#444" text-anchor="middle" font-family='"Liberation Sans", sans-serif' >12</text>
<rect x="412.80" y="872.40" width="31.90" height="12.30" rx="0" fill="none" stroke="#151515" stroke-width="1.9"/>
<path d="M413.60 873.20 L421.30 876.15 M413.60 883.90 L421.30 880.95 M443.90 873.20 L436.30 876.15 M443.90 883.90 L436.30 880.95" fill="none" stroke="#151515" stroke-width="1.45" />
<rect x="421.30" y="876.15" width="15.00" height="4.80" rx="0" fill="none" stroke="#151515" stroke-width="1.7"/>
<rect x="412.80" y="894.50" width="31.90" height="12.30" rx="0" fill="none" stroke="#151515" stroke-width="1.9"/>
<path d="M413.60 895.30 L421.30 898.25 M413.60 906.00 L421.30 903.05 M443.90 895.30 L436.30 898.25 M443.90 906.00 L436.30 903.05" fill="none" stroke="#151515" stroke-width="1.45" />
<rect x="421.30" y="898.25" width="15.00" height="4.80" rx="0" fill="none" stroke="#151515" stroke-width="1.7"/>
<circle cx="428.65" cy="889.10" r="2.15" fill="#222" stroke="#151515" stroke-width="1.2"/>
<circle cx="428.65" cy="910.90" r="2.15" fill="#222" stroke="#151515" stroke-width="1.2"/>
<text x="423.75" y="890.20" font-size="3.0" fill="#333" text-anchor="end" font-family='"Liberation Sans", sans-serif' >TX</text>
<text x="433.75" y="890.20" font-size="3.0" fill="#333" text-anchor="start" font-family='"Liberation Sans", sans-serif' >RX</text>
<text x="431.85" y="912.00" font-size="3.0" fill="#333" text-anchor="start" font-family='"Liberation Sans", sans-serif' >13</text>
<text x="433.65" y="869.50" font-size="3.0" fill="#444" text-anchor="middle" font-family='"Liberation Sans", sans-serif' >14</text>
<rect x="444.70" y="872.40" width="31.90" height="12.30" rx="0" fill="none" stroke="#151515" stroke-width="1.9"/>
<path d="M445.50 873.20 L453.20 876.15 M445.50 883.90 L453.20 880.95 M475.80 873.20 L468.20 876.15 M475.80 883.90 L468.20 880.95" fill="none" stroke="#151515" stroke-width="1.45" />
<rect x="453.20" y="876.15" width="15.00" height="4.80" rx="0" fill="none" stroke="#151515" stroke-width="1.7"/>
<rect x="444.70" y="894.50" width="31.90" height="12.30" rx="0" fill="none" stroke="#151515" stroke-width="1.9"/>
<path d="M445.50 895.30 L453.20 898.25 M445.50 906.00 L453.20 903.05 M475.80 895.30 L468.20 898.25 M475.80 906.00 L468.20 903.05" fill="none" stroke="#151515" stroke-width="1.45" />
<rect x="453.20" y="898.25" width="15.00" height="4.80" rx="0" fill="none" stroke="#151515" stroke-width="1.7"/>
<circle cx="460.55" cy="889.10" r="2.15" fill="#222" stroke="#151515" stroke-width="1.2"/>
<circle cx="460.55" cy="910.90" r="2.15" fill="#222" stroke="#151515" stroke-width="1.2"/>
<text x="455.65" y="890.20" font-size="3.0" fill="#333" text-anchor="end" font-family='"Liberation Sans", sans-serif' >TX</text>
<text x="465.65" y="890.20" font-size="3.0" fill="#333" text-anchor="start" font-family='"Liberation Sans", sans-serif' >RX</text>
<text x="463.75" y="912.00" font-size="3.0" fill="#333" text-anchor="start" font-family='"Liberation Sans", sans-serif' >15</text>
<text x="465.55" y="869.50" font-size="3.0" fill="#444" text-anchor="middle" font-family='"Liberation Sans", sans-serif' >16</text>
<rect x="483.00" y="872.40" width="32.18" height="12.30" rx="0" fill="none" stroke="#151515" stroke-width="1.9"/>
<path d="M483.80 873.20 L491.50 876.15 M483.80 883.90 L491.50 880.95 M514.38 873.20 L506.50 876.15 M514.38 883.90 L506.50 880.95" fill="none" stroke="#151515" stroke-width="1.45" />
<rect x="491.50" y="876.15" width="15.00" height="4.80" rx="0" fill="none" stroke="#151515" stroke-width="1.7"/>
<rect x="483.00" y="894.50" width="32.18" height="12.30" rx="0" fill="none" stroke="#151515" stroke-width="1.9"/>
<path d="M483.80 895.30 L491.50 898.25 M483.80 906.00 L491.50 903.05 M514.38 895.30 L506.50 898.25 M514.38 906.00 L506.50 903.05" fill="none" stroke="#151515" stroke-width="1.45" />
<rect x="491.50" y="898.25" width="15.00" height="4.80" rx="0" fill="none" stroke="#151515" stroke-width="1.7"/>
<circle cx="498.99" cy="889.10" r="2.15" fill="#222" stroke="#151515" stroke-width="1.2"/>
<circle cx="498.99" cy="910.90" r="2.15" fill="#222" stroke="#151515" stroke-width="1.2"/>
<text x="494.09" y="890.20" font-size="3.0" fill="#333" text-anchor="end" font-family='"Liberation Sans", sans-serif' >TX</text>
<text x="504.09" y="890.20" font-size="3.0" fill="#333" text-anchor="start" font-family='"Liberation Sans", sans-serif' >RX</text>
<text x="502.19" y="912.00" font-size="3.0" fill="#333" text-anchor="start" font-family='"Liberation Sans", sans-serif' >17</text>
<text x="503.99" y="869.50" font-size="3.0" fill="#444" text-anchor="middle" font-family='"Liberation Sans", sans-serif' >18</text>
<rect x="515.18" y="872.40" width="32.18" height="12.30" rx="0" fill="none" stroke="#151515" stroke-width="1.9"/>
<path d="M515.98 873.20 L523.68 876.15 M515.98 883.90 L523.68 880.95 M546.56 873.20 L538.68 876.15 M546.56 883.90 L538.68 880.95" fill="none" stroke="#151515" stroke-width="1.45" />
<rect x="523.68" y="876.15" width="15.00" height="4.80" rx="0" fill="none" stroke="#151515" stroke-width="1.7"/>
<rect x="515.18" y="894.50" width="32.18" height="12.30" rx="0" fill="none" stroke="#151515" stroke-width="1.9"/>
<path d="M515.98 895.30 L523.68 898.25 M515.98 906.00 L523.68 903.05 M546.56 895.30 L538.68 898.25 M546.56 906.00 L538.68 903.05" fill="none" stroke="#151515" stroke-width="1.45" />
<rect x="523.68" y="898.25" width="15.00" height="4.80" rx="0" fill="none" stroke="#151515" stroke-width="1.7"/>
<circle cx="531.17" cy="889.10" r="2.15" fill="#222" stroke="#151515" stroke-width="1.2"/>
<circle cx="531.17" cy="910.90" r="2.15" fill="#222" stroke="#151515" stroke-width="1.2"/>
<text x="526.27" y="890.20" font-size="3.0" fill="#333" text-anchor="end" font-family='"Liberation Sans", sans-serif' >TX</text>
<text x="536.27" y="890.20" font-size="3.0" fill="#333" text-anchor="start" font-family='"Liberation Sans", sans-serif' >RX</text>
<text x="534.37" y="912.00" font-size="3.0" fill="#333" text-anchor="start" font-family='"Liberation Sans", sans-serif' >19</text>
<text x="536.17" y="869.50" font-size="3.0" fill="#444" text-anchor="middle" font-family='"Liberation Sans", sans-serif' >20</text>
<rect x="547.36" y="872.40" width="32.18" height="12.30" rx="0" fill="none" stroke="#151515" stroke-width="1.9"/>
<path d="M548.16 873.20 L555.86 876.15 M548.16 883.90 L555.86 880.95 M578.74 873.20 L570.86 876.15 M578.74 883.90 L570.86 880.95" fill="none" stroke="#151515" stroke-width="1.45" />
<rect x="555.86" y="876.15" width="15.00" height="4.80" rx="0" fill="none" stroke="#151515" stroke-width="1.7"/>
<rect x="547.36" y="894.50" width="32.18" height="12.30" rx="0" fill="none" stroke="#151515" stroke-width="1.9"/>
<path d="M548.16 895.30 L555.86 898.25 M548.16 906.00 L555.86 903.05 M578.74 895.30 L570.86 898.25 M578.74 906.00 L570.86 903.05" fill="none" stroke="#151515" stroke-width="1.45" />
<rect x="555.86" y="898.25" width="15.00" height="4.80" rx="0" fill="none" stroke="#151515" stroke-width="1.7"/>
<circle cx="563.35" cy="889.10" r="2.15" fill="#222" stroke="#151515" stroke-width="1.2"/>
<circle cx="563.35" cy="910.90" r="2.15" fill="#222" stroke="#151515" stroke-width="1.2"/>
<text x="558.45" y="890.20" font-size="3.0" fill="#333" text-anchor="end" font-family='"Liberation Sans", sans-serif' >TX</text>
<text x="568.45" y="890.20" font-size="3.0" fill="#333" text-anchor="start" font-family='"Liberation Sans", sans-serif' >RX</text>
<text x="566.55" y="912.00" font-size="3.0" fill="#333" text-anchor="start" font-family='"Liberation Sans", sans-serif' >21</text>
<text x="568.35" y="869.50" font-size="3.0" fill="#444" text-anchor="middle" font-family='"Liberation Sans", sans-serif' >22</text>
<rect x="579.54" y="872.40" width="32.18" height="12.30" rx="0" fill="none" stroke="#151515" stroke-width="1.9"/>
<path d="M580.34 873.20 L588.04 876.15 M580.34 883.90 L588.04 880.95 M610.92 873.20 L603.04 876.15 M610.92 883.90 L603.04 880.95" fill="none" stroke="#151515" stroke-width="1.45" />
<rect x="588.04" y="876.15" width="15.00" height="4.80" rx="0" fill="none" stroke="#151515" stroke-width="1.7"/>
<rect x="579.54" y="894.50" width="32.18" height="12.30" rx="0" fill="none" stroke="#151515" stroke-width="1.9"/>
<path d="M580.34 895.30 L588.04 898.25 M580.34 906.00 L588.04 903.05 M610.92 895.30 L603.04 898.25 M610.92 906.00 L603.04 903.05" fill="none" stroke="#151515" stroke-width="1.45" />
<rect x="588.04" y="898.25" width="15.00" height="4.80" rx="0" fill="none" stroke="#151515" stroke-width="1.7"/>
<circle cx="595.53" cy="889.10" r="2.15" fill="#222" stroke="#151515" stroke-width="1.2"/>
<circle cx="595.53" cy="910.90" r="2.15" fill="#222" stroke="#151515" stroke-width="1.2"/>
<text x="590.63" y="890.20" font-size="3.0" fill="#333" text-anchor="end" font-family='"Liberation Sans", sans-serif' >TX</text>
<text x="600.63" y="890.20" font-size="3.0" fill="#333" text-anchor="start" font-family='"Liberation Sans", sans-serif' >RX</text>
<text x="598.73" y="912.00" font-size="3.0" fill="#333" text-anchor="start" font-family='"Liberation Sans", sans-serif' >23</text>
<text x="600.53" y="869.50" font-size="3.0" fill="#444" text-anchor="middle" font-family='"Liberation Sans", sans-serif' >24</text>
<line x1="736.30" y1="867.50" x2="736.30" y2="871.80" stroke="#151515" stroke-width="0.9" />
<path d="M739.4 869.40 V867.80 H749.4 V871.80 M742.6 867.80 V871.80 M746.3 867.80 V871.80" fill="none" stroke="#151515" stroke-width="0.9" />
<text x="754.00" y="871.50" font-size="3.0" fill="#333" text-anchor="start" font-family='"Liberation Sans", sans-serif' >ALARM</text>
<rect x="726.90" y="875.30" width="32.00" height="10.70" rx="0" fill="none" stroke="#151515" stroke-width="1.7"/>
<line x1="726.90" y1="876.20" x2="758.90" y2="876.20" stroke="#151515" stroke-width="1.8" />
<circle cx="730.10" cy="881.10" r="1.55" fill="none" stroke="#151515" stroke-width="1.3"/>
<circle cx="755.40" cy="881.10" r="1.55" fill="none" stroke="#151515" stroke-width="1.3"/>
<rect x="733.20" y="877.80" width="19.00" height="7.40" rx="1.2" fill="none" stroke="#151515" stroke-width="0.9"/>
<circle cx="736.40" cy="881.70" r="1.95" fill="#1a1a1a" stroke="none" stroke-width="0"/>
<circle cx="742.50" cy="881.70" r="1.95" fill="#1a1a1a" stroke="none" stroke-width="0"/>
<circle cx="748.70" cy="881.70" r="1.95" fill="#1a1a1a" stroke="none" stroke-width="0"/>
<text x="740.00" y="893.50" font-size="3.0" fill="#333" text-anchor="middle" font-family='"Liberation Sans", sans-serif' >PWR1</text>
<text x="759.00" y="893.50" font-size="3.0" fill="#333" text-anchor="middle" font-family='"Liberation Sans", sans-serif' >PWR2</text>
<rect x="726.90" y="897.60" width="44.60" height="10.70" rx="0" fill="none" stroke="#151515" stroke-width="1.7"/>
<line x1="726.90" y1="898.50" x2="771.50" y2="898.50" stroke="#151515" stroke-width="1.8" />
<circle cx="730.10" cy="903.40" r="1.55" fill="none" stroke="#151515" stroke-width="1.3"/>
<circle cx="768.30" cy="903.40" r="1.55" fill="none" stroke="#151515" stroke-width="1.3"/>
<rect x="733.20" y="899.80" width="31.60" height="7.60" rx="1.2" fill="none" stroke="#151515" stroke-width="0.9"/>
<circle cx="736.40" cy="904.00" r="1.95" fill="#1a1a1a" stroke="none" stroke-width="0"/>
<circle cx="742.50" cy="904.00" r="1.95" fill="#1a1a1a" stroke="none" stroke-width="0"/>
<circle cx="749.00" cy="904.00" r="1.95" fill="#1a1a1a" stroke="none" stroke-width="0"/>
<circle cx="755.40" cy="904.00" r="1.95" fill="#1a1a1a" stroke="none" stroke-width="0"/>
<circle cx="761.70" cy="904.00" r="1.95" fill="#1a1a1a" stroke="none" stroke-width="0"/>
<text x="736.40" y="911.90" font-size="3.0" fill="#222" text-anchor="middle" font-family='"Liberation Sans", sans-serif' >V1-</text>
<text x="742.50" y="911.90" font-size="3.0" fill="#222" text-anchor="middle" font-family='"Liberation Sans", sans-serif' >V1+</text>
<text x="755.40" y="911.90" font-size="3.0" fill="#222" text-anchor="middle" font-family='"Liberation Sans", sans-serif' >V2-</text>
<text x="761.70" y="911.90" font-size="3.0" fill="#222" text-anchor="middle" font-family='"Liberation Sans", sans-serif' >V2+</text>
<text x="736.40" y="915.00" font-size="3.4" fill="#222" text-anchor="middle" font-family='"Liberation Sans", sans-serif' >−</text>
<text x="742.50" y="915.00" font-size="3.4" fill="#222" text-anchor="middle" font-family='"Liberation Sans", sans-serif' >+</text>
<text x="755.40" y="915.00" font-size="3.4" fill="#222" text-anchor="middle" font-family='"Liberation Sans", sans-serif' >−</text>
<text x="761.70" y="915.00" font-size="3.4" fill="#222" text-anchor="middle" font-family='"Liberation Sans", sans-serif' >+</text>
<circle cx="749.00" cy="911.20" r="1.4" fill="none" stroke="#222" stroke-width="0.9"/>
<line x1="749.00" y1="910.20" x2="749.00" y2="912.20" stroke="#222" stroke-width="0.7" />
<circle cx="778.20" cy="879.20" r="2.9" fill="none" stroke="#151515" stroke-width="2.7"/>
<circle cx="778.20" cy="888.00" r="2.3" fill="none" stroke="#151515" stroke-width="1.15"/>
<path d="M778.2 886.40 V888.20 M776.9 888.20 H779.5 M777.4 889.10 H779.0" fill="none" stroke="#151515" stroke-width="0.9" />
<text fill="#2f93a0"><tspan x="239.09" y="857.00" font-size="14.2" font-family='"Noto Sans CJK SC", sans-serif' font-weight="400" textLength="18.01" lengthAdjust="spacingAndGlyphs">16</tspan><tspan x="258.88" y="857.20" font-size="14.6" font-family='"Noto Sans CJK SC", sans-serif' font-weight="400" textLength="16.85" lengthAdjust="spacingAndGlyphs">光</tspan><tspan x="276.14" y="857.00" font-size="14.2" font-family='"Noto Sans CJK SC", sans-serif' font-weight="400" textLength="10.13" lengthAdjust="spacingAndGlyphs">8</tspan><tspan x="287.56" y="857.20" font-size="14.6" font-family='"Noto Sans CJK SC", sans-serif' font-weight="400" textLength="16.87" lengthAdjust="spacingAndGlyphs">电</tspan></text>
</svg>
</body>
</html>
